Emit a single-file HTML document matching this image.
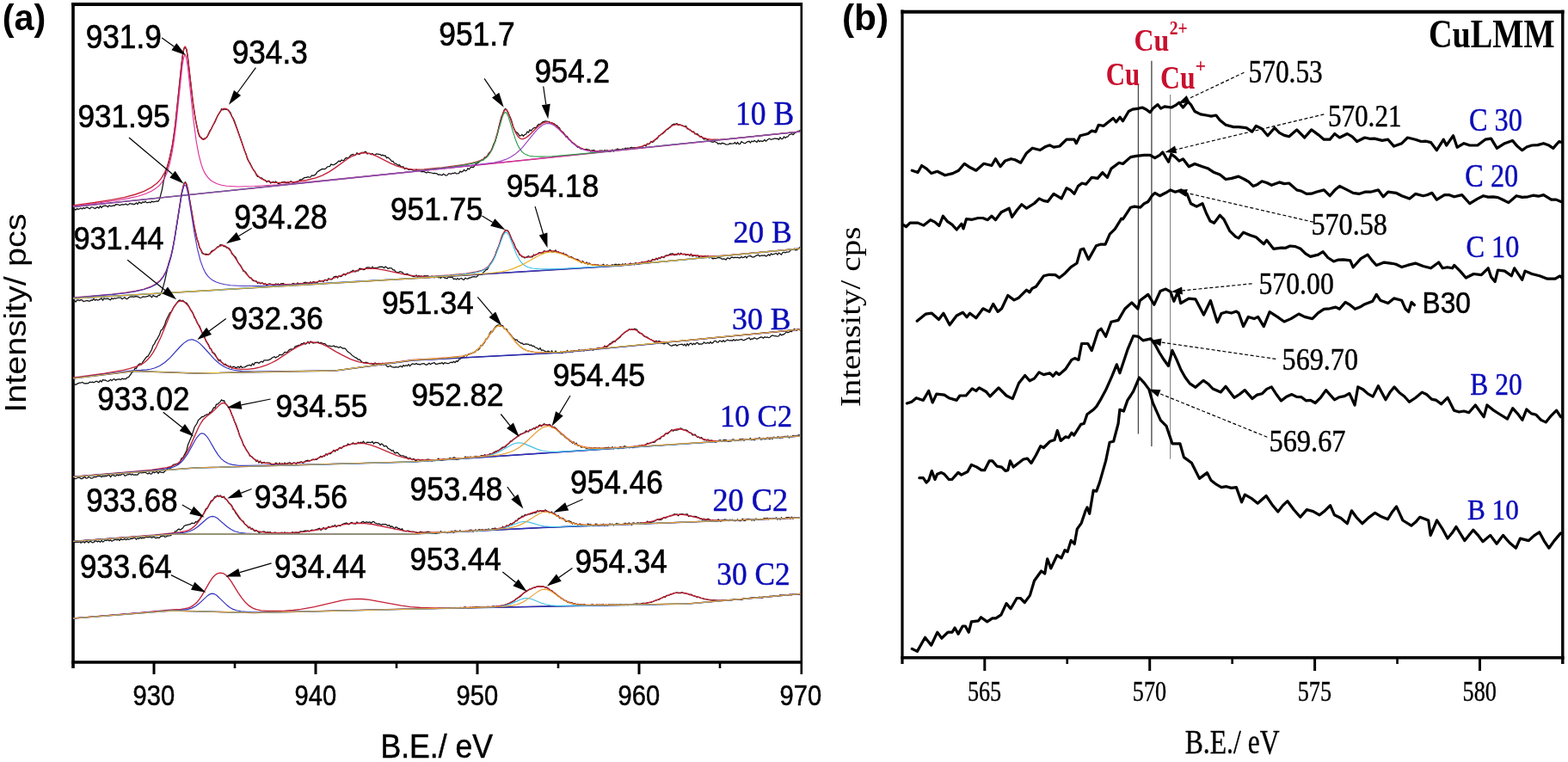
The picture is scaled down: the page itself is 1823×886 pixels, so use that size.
<!DOCTYPE html>
<html><head><meta charset="utf-8"><title>XPS spectra</title>
<style>html,body{margin:0;padding:0;background:#fff;width:1823px;height:886px;overflow:hidden}svg{display:block}</style>
</head><body>
<svg width="1823" height="886" viewBox="0 0 1823 886"><rect width="1823" height="886" fill="#fff"/><line x1="85" y1="3" x2="85" y2="777" stroke="#000" stroke-width="3.6"/>
<line x1="83.2" y1="5" x2="932.3" y2="5" stroke="#000" stroke-width="4"/>
<line x1="931.8" y1="3" x2="931.8" y2="784" stroke="#000" stroke-width="2.6"/>
<line x1="83.2" y1="770" x2="932.5" y2="770" stroke="#000" stroke-width="3.6"/>
<line x1="179" y1="770" x2="179" y2="784" stroke="#000" stroke-width="3"/>
<line x1="367" y1="770" x2="367" y2="784" stroke="#000" stroke-width="3"/>
<line x1="555" y1="770" x2="555" y2="784" stroke="#000" stroke-width="3"/>
<line x1="743" y1="770" x2="743" y2="784" stroke="#000" stroke-width="3"/>
<line x1="273" y1="770" x2="273" y2="777" stroke="#000" stroke-width="2.6"/>
<line x1="461" y1="770" x2="461" y2="777" stroke="#000" stroke-width="2.6"/>
<line x1="649" y1="770" x2="649" y2="777" stroke="#000" stroke-width="2.6"/>
<line x1="837" y1="770" x2="837" y2="777" stroke="#000" stroke-width="2.6"/>
<text transform="translate(154.57 820.13) scale(1 1.1111)" font-family='"Liberation Sans", Arial, sans-serif' font-size="29.13" fill="#000" stroke="#000" stroke-width="0.45">930</text>
<text transform="translate(342.57 820.13) scale(1 1.1111)" font-family='"Liberation Sans", Arial, sans-serif' font-size="29.13" fill="#000" stroke="#000" stroke-width="0.45">940</text>
<text transform="translate(530.57 820.13) scale(1 1.1111)" font-family='"Liberation Sans", Arial, sans-serif' font-size="29.13" fill="#000" stroke="#000" stroke-width="0.45">950</text>
<text transform="translate(718.57 820.13) scale(1 1.1111)" font-family='"Liberation Sans", Arial, sans-serif' font-size="29.13" fill="#000" stroke="#000" stroke-width="0.45">960</text>
<text transform="translate(906.57 820.13) scale(1 1.1111)" font-family='"Liberation Sans", Arial, sans-serif' font-size="29.13" fill="#000" stroke="#000" stroke-width="0.45">970</text>
<text transform="translate(442.41 881.07) scale(1 1.0780)" font-family='"Liberation Sans", Arial, sans-serif' font-size="35.59" fill="#000" stroke="#000" stroke-width="0.46">B.E./ eV</text>
<text transform="translate(29.8 479.87) rotate(-90) scale(1.1269 1)" font-family='"Liberation Sans", Arial, sans-serif' font-size="35.20" fill="#000">Intensity/ pcs</text>
<text transform="translate(2.63 34.95) scale(1 1.0196)" font-family='"Liberation Sans", Arial, sans-serif' font-size="41.34" font-weight="bold" fill="#000">(a)</text>
<line x1="1049" y1="11.5" x2="1049" y2="772" stroke="#000" stroke-width="3.2"/>
<line x1="1047.4" y1="13.7" x2="1818.5" y2="13.7" stroke="#000" stroke-width="4"/>
<line x1="1816.8" y1="11.7" x2="1816.8" y2="772" stroke="#000" stroke-width="3.4"/>
<line x1="1047.4" y1="764.8" x2="1818.5" y2="764.8" stroke="#000" stroke-width="3.4"/>
<line x1="1144.8" y1="764.8" x2="1144.8" y2="780" stroke="#000" stroke-width="3"/>
<line x1="1336.7" y1="764.8" x2="1336.7" y2="780" stroke="#000" stroke-width="3"/>
<line x1="1528.6" y1="764.8" x2="1528.6" y2="780" stroke="#000" stroke-width="3"/>
<line x1="1720.5" y1="764.8" x2="1720.5" y2="780" stroke="#000" stroke-width="3"/>
<line x1="1240.75" y1="764.8" x2="1240.75" y2="772" stroke="#000" stroke-width="2.6"/>
<line x1="1432.65" y1="764.8" x2="1432.65" y2="772" stroke="#000" stroke-width="2.6"/>
<line x1="1624.55" y1="764.8" x2="1624.55" y2="772" stroke="#000" stroke-width="2.6"/>
<text transform="translate(1124.89 815.06) scale(1 1.2921)" font-family='"Liberation Serif", "Times New Roman", serif' font-size="26.24" fill="#000" stroke="#000" stroke-width="0.31">565</text>
<text transform="translate(1316.79 815.06) scale(1 1.2896)" font-family='"Liberation Serif", "Times New Roman", serif' font-size="26.19" fill="#000" stroke="#000" stroke-width="0.31">570</text>
<text transform="translate(1508.69 815.06) scale(1 1.3067)" font-family='"Liberation Serif", "Times New Roman", serif' font-size="26.24" fill="#000" stroke="#000" stroke-width="0.31">575</text>
<text transform="translate(1700.59 815.06) scale(1 1.2896)" font-family='"Liberation Serif", "Times New Roman", serif' font-size="26.19" fill="#000" stroke="#000" stroke-width="0.31">580</text>
<text transform="translate(1377.73 875.61) scale(1 1.2397)" font-family='"Liberation Serif", "Times New Roman", serif' font-size="31.67" fill="#000" stroke="#000" stroke-width="0.32">B.E./ eV</text>
<text transform="translate(999.9 473.37) rotate(-90) scale(1.1656 1)" font-family='"Liberation Serif", "Times New Roman", serif' font-size="33.59" fill="#000">Intensity/ cps</text>
<text transform="translate(978.88 35.25) scale(1 0.9925)" font-family='"Liberation Sans", Arial, sans-serif' font-size="42.46" font-weight="bold" fill="#000">(b)</text>
<text transform="translate(1660.88 55.42) scale(1 1.2194)" font-family='"Liberation Serif", "Times New Roman", serif' font-size="38.27" font-weight="bold" fill="#000">CuLMM</text>
<text transform="translate(99.68 55.85) scale(1 1.1288)" font-family='"Liberation Sans", Arial, sans-serif' font-size="35.19" fill="#000" stroke="#000" stroke-width="0.62">931.9</text>
<text transform="translate(269.78 73.57) scale(1 1.0937)" font-family='"Liberation Sans", Arial, sans-serif' font-size="35.15" fill="#000" stroke="#000" stroke-width="0.64">934.3</text>
<text transform="translate(90.38 148.08) scale(1 1.0626)" font-family='"Liberation Sans", Arial, sans-serif' font-size="35.12" fill="#000" stroke="#000" stroke-width="0.66">931.95</text>
<text transform="translate(272.37 266.25) scale(1 1.1305)" font-family='"Liberation Sans", Arial, sans-serif' font-size="35.38" fill="#000" stroke="#000" stroke-width="0.62">934.28</text>
<text transform="translate(85.52 289.68) scale(1 1.0889)" font-family='"Liberation Sans", Arial, sans-serif' font-size="34.27" fill="#000" stroke="#000" stroke-width="0.64">931.44</text>
<text transform="translate(268.59 382.99) scale(1 1.0365)" font-family='"Liberation Sans", Arial, sans-serif' font-size="35.05" fill="#000" stroke="#000" stroke-width="0.68">932.36</text>
<text transform="translate(113.18 477.47) scale(1 1.0792)" font-family='"Liberation Sans", Arial, sans-serif' font-size="35.10" fill="#000" stroke="#000" stroke-width="0.65">933.02</text>
<text transform="translate(320.39 484.57) scale(1 1.0777)" font-family='"Liberation Sans", Arial, sans-serif' font-size="35.02" fill="#000" stroke="#000" stroke-width="0.65">934.55</text>
<text transform="translate(100.2 595.26) scale(1 1.1258)" font-family='"Liberation Sans", Arial, sans-serif' font-size="34.78" fill="#000" stroke="#000" stroke-width="0.62">933.68</text>
<text transform="translate(295.87 590.76) scale(1 1.1105)" font-family='"Liberation Sans", Arial, sans-serif' font-size="35.38" fill="#000" stroke="#000" stroke-width="0.63">934.56</text>
<text transform="translate(92.89 671.57) scale(1 1.0904)" font-family='"Liberation Sans", Arial, sans-serif' font-size="34.87" fill="#000" stroke="#000" stroke-width="0.64">933.64</text>
<text transform="translate(318.89 671.57) scale(1 1.0893)" font-family='"Liberation Sans", Arial, sans-serif' font-size="34.90" fill="#000" stroke="#000" stroke-width="0.64">934.44</text>
<text transform="translate(510.27 52.66) scale(1 1.0905)" font-family='"Liberation Sans", Arial, sans-serif' font-size="35.38" fill="#000" stroke="#000" stroke-width="0.64">951.7</text>
<text transform="translate(621.39 95.96) scale(1 1.1021)" font-family='"Liberation Sans", Arial, sans-serif' font-size="35.01" fill="#000" stroke="#000" stroke-width="0.64">954.2</text>
<text transform="translate(454.08 256.28) scale(1 1.0626)" font-family='"Liberation Sans", Arial, sans-serif' font-size="35.12" fill="#000" stroke="#000" stroke-width="0.66">951.75</text>
<text transform="translate(588.68 229.28) scale(1 1.0617)" font-family='"Liberation Sans", Arial, sans-serif' font-size="35.15" fill="#000" stroke="#000" stroke-width="0.66">954.18</text>
<text transform="translate(443.89 365.38) scale(1 1.0701)" font-family='"Liberation Sans", Arial, sans-serif' font-size="34.87" fill="#000" stroke="#000" stroke-width="0.65">951.34</text>
<text transform="translate(478.18 471.88) scale(1 1.0620)" font-family='"Liberation Sans", Arial, sans-serif' font-size="35.14" fill="#000" stroke="#000" stroke-width="0.66">952.82</text>
<text transform="translate(642.68 449.28) scale(1 1.0424)" font-family='"Liberation Sans", Arial, sans-serif' font-size="35.12" fill="#000" stroke="#000" stroke-width="0.67">954.45</text>
<text transform="translate(476.58 581.96) scale(1 1.1188)" font-family='"Liberation Sans", Arial, sans-serif' font-size="35.25" fill="#000" stroke="#000" stroke-width="0.63">953.48</text>
<text transform="translate(663.08 574.26) scale(1 1.1147)" font-family='"Liberation Sans", Arial, sans-serif' font-size="35.25" fill="#000" stroke="#000" stroke-width="0.63">954.46</text>
<text transform="translate(476.6 663.07) scale(1 1.0875)" font-family='"Liberation Sans", Arial, sans-serif' font-size="34.70" fill="#000" stroke="#000" stroke-width="0.64">953.44</text>
<text transform="translate(668.58 666.36) scale(1 1.1204)" font-family='"Liberation Sans", Arial, sans-serif' font-size="35.07" fill="#000" stroke="#000" stroke-width="0.62">954.34</text>
<text transform="translate(855.02 144.87) scale(1 1.1278)" font-family='"Liberation Serif", "Times New Roman", serif' font-size="35.53" fill="#0c0cb8" stroke="#0c0cb8" stroke-width="0.40">10 B</text>
<text transform="translate(852.41 281.71) scale(1 1.0297)" font-family='"Liberation Serif", "Times New Roman", serif' font-size="35.75" fill="#0c0cb8" stroke="#0c0cb8" stroke-width="0.44">20 B</text>
<text transform="translate(851.03 382.71) scale(1 1.0300)" font-family='"Liberation Serif", "Times New Roman", serif' font-size="35.74" fill="#0c0cb8" stroke="#0c0cb8" stroke-width="0.44">30 B</text>
<text transform="translate(836.98 496.11) scale(1 1.0582)" font-family='"Liberation Serif", "Times New Roman", serif' font-size="34.79" fill="#0c0cb8" stroke="#0c0cb8" stroke-width="0.43">10 C2</text>
<text transform="translate(828.38 593.89) scale(1 1.0640)" font-family='"Liberation Serif", "Times New Roman", serif' font-size="36.27" fill="#0c0cb8" stroke="#0c0cb8" stroke-width="0.42">20 C2</text>
<text transform="translate(833.35 679.69) scale(1 1.0942)" font-family='"Liberation Serif", "Times New Roman", serif' font-size="35.27" fill="#0c0cb8" stroke="#0c0cb8" stroke-width="0.41">30 C2</text>
<text transform="translate(1285.73 98.52) scale(1 1.2444)" font-family='"Liberation Serif", "Times New Roman", serif' font-size="30.95" font-weight="bold" fill="#c8102e">Cu</text>
<text transform="translate(1318.49 59.04) scale(1 1.1529)" font-family='"Liberation Serif", "Times New Roman", serif' font-size="31.87" font-weight="bold" fill="#c8102e">Cu</text>
<text transform="translate(1359.76 40.3) scale(1 1.1268)" font-family='"Liberation Serif", "Times New Roman", serif' font-size="19.69" font-weight="bold" fill="#c8102e">2+</text>
<text transform="translate(1348.99 103.02) scale(1 1.2072)" font-family='"Liberation Serif", "Times New Roman", serif' font-size="31.78" font-weight="bold" fill="#c8102e">Cu</text>
<text transform="translate(1389.87 84.41) scale(1 1.1200)" font-family='"Liberation Serif", "Times New Roman", serif' font-size="21.51" font-weight="bold" fill="#c8102e">+</text>
<text transform="translate(1451.62 95.7) scale(1 1.2141)" font-family='"Liberation Serif", "Times New Roman", serif' font-size="31.31" fill="#000" stroke="#000" stroke-width="0.37">570.53</text>
<text transform="translate(1543.94 146.72) scale(1 1.1834)" font-family='"Liberation Serif", "Times New Roman", serif' font-size="31.13" fill="#000" stroke="#000" stroke-width="0.38">570.21</text>
<text transform="translate(1524.48 273.04) scale(1 1.1139)" font-family='"Liberation Serif", "Times New Roman", serif' font-size="32.15" fill="#000" stroke="#000" stroke-width="0.40">570.58</text>
<text transform="translate(1463.5 342.44) scale(1 1.1285)" font-family='"Liberation Serif", "Times New Roman", serif' font-size="31.73" fill="#000" stroke="#000" stroke-width="0.40">570.00</text>
<text transform="translate(1490.58 430.44) scale(1 1.1139)" font-family='"Liberation Serif", "Times New Roman", serif' font-size="32.15" fill="#000" stroke="#000" stroke-width="0.40">569.70</text>
<text transform="translate(1475.46 524.84) scale(1 1.1092)" font-family='"Liberation Serif", "Times New Roman", serif' font-size="32.40" fill="#000" stroke="#000" stroke-width="0.41">569.67</text>
<text transform="translate(1707.93 152.4) scale(1 1.1689)" font-family='"Liberation Serif", "Times New Roman", serif' font-size="32.26" fill="#0c0cb8" stroke="#0c0cb8" stroke-width="0.38">C 30</text>
<text transform="translate(1703.33 216.8) scale(1 1.1735)" font-family='"Liberation Serif", "Times New Roman", serif' font-size="32.26" fill="#0c0cb8" stroke="#0c0cb8" stroke-width="0.38">C 20</text>
<text transform="translate(1704.53 298.62) scale(1 1.0908)" font-family='"Liberation Serif", "Times New Roman", serif' font-size="32.26" fill="#0c0cb8" stroke="#0c0cb8" stroke-width="0.41">C 10</text>
<text transform="translate(1709.36 458.91) scale(1 1.1500)" font-family='"Liberation Serif", "Times New Roman", serif' font-size="31.50" fill="#0c0cb8" stroke="#0c0cb8" stroke-width="0.39">B 20</text>
<text transform="translate(1705.97 604.43) scale(1 1.0983)" font-family='"Liberation Serif", "Times New Roman", serif' font-size="31.23" fill="#0c0cb8" stroke="#0c0cb8" stroke-width="0.41">B 10</text>
<text transform="translate(1653.54 364.11) scale(1 1.0888)" font-family='"Liberation Sans", Arial, sans-serif' font-size="31.67" fill="#000" stroke="#000" stroke-width="0.46">B30</text>
<path d="M85.0 240.5l846 -87.5" fill="none" stroke="#b0308a" stroke-width="1.5"/>
<path d="M85.0 243.5l1.5 -0.6l1.5 1.2l1.5 -1.7l1.5 1.1l3 -1.6l1.5 1l1.5 -1.3l1.5 0.8l1.5 -1.1l1.5 -0.1l3 1.6l1.5 -2l1.5 0.2l3 1.5l1.5 -1.1l1.5 -0.6l1.5 1.3l1.5 -2.5l1.5 1.9l1.5 -1.6l1.5 -0.5l1.5 -0.3l1.5 0.4l1.5 1.1l1.5 -1.8l1.5 0.9l1.5 0l1.5 -0.8l1.5 0.3l1.5 -1.5l3 0.1l1.5 1.1l3 -1.3l1.5 0.6l3 -1.1l1.5 1.1l1.5 -0.4l1.5 -1.3l1.5 0.7l1.5 -0.3l1.5 0.8l1.5 -0.6l1.5 -1.3l1.5 1.7l1.5 -2.4l3 1.3l1.5 -1.7l1.5 0.7l1.5 -1.3l1.5 1.5l1.5 0.1l1.5 -0.7l1.5 0.7l1.5 -1.6l1.5 0.8l4.5 -1.1l1.5 0.3l1.5 -2.5l3 -11.5l1.5 -8.8l3 -12.8l1.5 -3.9l1.5 -5.2l4.5 -21l3 -21.1l7.5 -72.7l1.5 -11.6l1.5 -7.1l1.5 -0.5l1.5 2.2l1.5 10.1l6 53.3l3 19.1l3 14.4l1.5 4.3l1.5 0.7l1.5 1.5l1.5 0.5l3 -1.1l1.5 -1.6l3 -6.7l1.5 -2l1.5 -3.3l3 -5l3 -7.2l3 -4.4l1.5 -3.4l1.5 1l1.5 -0.9l4.5 0.8l3 3.4l1.5 4.2l1.5 1.9l1.5 3.6l7.5 21.1l4.5 13.6l1.5 3.1l1.5 5.9l1.5 2.8l1.5 2l3 6.2l1.5 2.4l1.5 1.6l1.5 3.8l1.5 2.1l1.5 0.1l1.5 1.3l1.5 0l3 2.4l1.5 0.4l1.5 2l1.5 -1.3l1.5 0l1.5 2.7l3 -1.8l1.5 1.2l1.5 -1.3l3 2.5l3 -0.8l1.5 -1.1l1.5 0.2l1.5 -0.6l1.5 1.4l1.5 -0.7l1.5 0.5l1.5 -1.3l1.5 -0.4l1.5 1.3l1.5 0.2l4.5 -1.2l1.5 -0.6l1.5 -1.7l1.5 0.3l3 -2.2l1.5 -0.6l1.5 0.1l1.5 -0.8l1.5 0.5l1.5 -0.1l1.5 -2.1l1.5 0.4l1.5 -0.7l1.5 -0.9l1.5 -2.4l1.5 -1.2l4.5 -2.7l3 0.2l1.5 -0.9l1.5 -1.7l3 -0.6l1.5 -2.5l1.5 0.8l1.5 0l3 -1.8l3 -2.8l1.5 0.9l1.5 -1.9l1.5 0.5l1.5 -0.3l1.5 -2.2l1.5 -0.7l1.5 0.7l1.5 -1.3l1.5 -2.1l1.5 -0.8l1.5 -0.5l1.5 1.4l1.5 -0.8l1.5 -2.2l1.5 1.4l1.5 0.1l3 -2l1.5 0.4l1.5 -1.1l1.5 -0.2l1.5 2.6l1.5 -0.6l1.5 -0.1l1.5 1.3l1.5 -1l1.5 1.4l1.5 0.2l1.5 -1.4l4.5 0.8l1.5 1.2l1.5 -0.5l1.5 0.8l1.5 -0.2l1.5 2.7l1.5 -0.6l3 2.6l1.5 2l1.5 -0.1l1.5 2.5l1.5 0.1l3 2.1l1.5 -0.4l1.5 1.9l3 0.2l1.5 2.6l1.5 -1.2l3 2.1l3 -0.5l4.5 1.9l1.5 -1.6l1.5 1.4l1.5 -0.6l1.5 0.3l1.5 1.5l1.5 -0.5l1.5 0.4l3 1.3l1.5 -1l1.5 0.7l3 0.3l1.5 0.7l1.5 -0.4l3 0.6l1.5 1.4l1.5 -0.4l3 0.9l1.5 -1.6l3 1.9l1.5 -0.3l1.5 -1.9l1.5 -0.1l1.5 0.6l1.5 -1.1l1.5 0.2l1.5 -0.8l1.5 1.2l3 -0.3l1.5 -2.4l1.5 0.9l1.5 -0.7l1.5 -2l1.5 1.3l1.5 -0.4l1.5 -2.6l1.5 1.2l1.5 -2.2l1.5 -0.5l1.5 0.5l1.5 -1.4l1.5 -2.8l1.5 -0.3l1.5 -0.9l3 -2.8l1.5 -0.7l1.5 0l1.5 -2.9l1.5 0.2l1.5 -1.7l1.5 -2.9l3 -3.1l1.5 -3.4l1.5 -4.8l1.5 -1.9l3 -10.1l1.5 -7.9l3 -11.5l1.5 -2.8l1.5 -4.7l1.5 -1.9l1.5 1.2l4.5 9.4l1.5 4.1l1.5 6.1l3 6.2l1.5 0.7l1.5 1.4l1.5 2.6l1.5 -0.5l1.5 -1.1l1.5 1.7l1.5 -1.7l1.5 -0.5l1.5 -2.9l1.5 1l1.5 -3.1l1.5 1.1l1.5 -2l1.5 -1.3l1.5 -0.4l1.5 0l1.5 -2.7l1.5 -1.3l1.5 0.1l3 -2.6l3 -1.1l4.5 0.7l1.5 1.6l1.5 -0.7l1.5 1.4l1.5 0.1l1.5 1.6l1.5 0.4l1.5 2l1.5 0.9l1.5 3.4l3 1.8l3 5.2l1.5 -0.6l1.5 3.4l1.5 0.5l3 3.8l1.5 0.2l4.5 4.8l1.5 -0.8l1.5 2.1l3 0.8l3 0.3l1.5 -0.3l1.5 0.5l1.5 0.1l1.5 2l1.5 -1.1l3 -0.2l1.5 2l1.5 0.1l1.5 -0.5l1.5 -1.1l3 0l1.5 0.3l1.5 -0.8l1.5 0.6l1.5 -0.6l1.5 1.7l1.5 0l3 -2.2l1.5 1.8l1.5 -1.9l1.5 0l1.5 -1l1.5 0.8l3 0l1.5 -0.9l1.5 0.6l1.5 -1.4l1.5 0.5l1.5 -0.6l1.5 0.6l1.5 -1.1l1.5 -0.2l1.5 0.5l1.5 -0.4l1.5 0.6l1.5 -0.4l1.5 0.3l1.5 -0.6l3 -0.2l1.5 -1.8l1.5 -0.6l1.5 1.1l1.5 -2.9l1.5 0.8l1.5 -1l1.5 -2.5l1.5 1.1l1.5 -0.9l1.5 -1.8l3 -2l1.5 -3l1.5 -0.4l1.5 -1.4l1.5 -0.5l3 -2.7l1.5 -2l1.5 -0.4l1.5 -1.6l1.5 -1l1.5 -2l1.5 -1.2l1.5 -0.3l1.5 0.2l1.5 -0.8l1.5 1.9l1.5 -0.6l4.5 1.8l1.5 0.3l1.5 -0.4l1.5 3l1.5 0.9l1.5 0.4l3 2.6l1.5 -0.5l1.5 2.8l1.5 -0.3l1.5 0.4l1.5 1.4l1.5 2l1.5 -0.7l1.5 2.1l1.5 1.3l1.5 -0.6l1.5 0.4l4.5 2.8l1.5 0.2l1.5 0.6l1.5 -1l3 1.4l1.5 1.6l1.5 -0.8l1.5 0.9l1.5 -1.2l3 0.8l1.5 1.1l3 -0.3l1.5 -1.1l1.5 0.4l3 -0.4l1.5 -1.1l1.5 1.9l1.5 -2l1.5 1.9l1.5 -0.2l1.5 -2.6l3 1.8l1.5 0.2l1.5 -1.5l1.5 -0.6l1.5 -0.3l1.5 1.8l1.5 -2.1l1.5 0.8l1.5 -1.3l3 1.8l1.5 -2.3l1.5 1.6l1.5 -0.9l1.5 0.8l1.5 -0.6l1.5 -1.4l1.5 1.6l3 -2.6l1.5 -0.2l1.5 1.1l4.5 -1.4l1.5 0.4l1.5 -0.2l1.5 1.2l1.5 -2.5l1.5 1.6l1.5 -0.2l1.5 -2.4l1.5 1.5l1.5 -1.2l1.5 -0.2l1.5 -2.3l3 -1.1l1.5 1l3 -2.8l1.5 -0.3l3 -1.6l1.5 -0.1" fill="none" stroke="#111" stroke-width="1.25"/>
<path d="M85.0 238.9l25 -3.4l19.5 -3.1l15.5 -3.1l12.5 -3.3l10 -3.7l8.5 -4.4l6.5 -4.9l3 -3.1l2.5 -3.2l3.5 -6l3 -7.4l3 -10.4l2.5 -12.1l2.5 -15.9l2 -15.8l7.5 -71.9l1.5 -9.2l1 -3.1l0.5 -0.6l0.5 0.1l1 2.2l1.5 7.7l6 51.7l3 21.4l3 14.4l1.5 4.6l1.5 3.2l1.5 1.9l1.5 0.7l1.5 -0.2l2 -1.6l2 -2.6l2 -3.5l8.5 -17.8l3.5 -6.1l2 -2.4l2 -1.5l2 -0.4l2 0.6l1.5 1.2l2 2.6l4 7.8l3.5 9l11.5 32.5l4 9.4l4 7.5l4.5 6.3l2.5 2.5l2.5 2.1l5 2.6l6.5 1.7l5 0.4l6 0.1l17 -1.1l13.5 -1.8l10.5 -2.6l8 -3.1l7.5 -4l6.5 -4.2l14 -10.1l6 -3.7l6 -2.7l6 -1.3l5.5 0.1l6 1.4l6 2.5l15 7.8l7.5 3.3l9 2.7l9 1.3l6.5 0.2l7.5 -0.2l21 -2l25.5 -3.5l9 -1.7l6.5 -1.7l5.5 -2.1l4 -2.6l3.5 -3.5l3 -4.7l2.5 -5.5l2.5 -7.1l8.5 -30.2l2 -4.1l1.5 -0.9l1.5 1.1l1.5 2.7l6 17.1l2.5 6l2.5 4.2l1.5 1.6l1.5 1.1l1.5 0.5l1.5 0l3 -1.1l4 -3.1l9 -9l4.5 -3.7l2.5 -1.5l2.5 -1l2.5 -0.4l2 0.1l4 1.3l4.5 3.1l4.5 4.2l12 12.7l4 3.5l4 3l4 2.3l4.5 1.8l4.5 1.2l5.5 0.7l12.5 -0.1l22 -1.8l14.5 -1.8l9 -2.1l6 -2.4l6 -3.6l5 -4l10.5 -9.4l4 -3l4 -2l3.5 -0.8l4 0.2l4.5 1.6l4 2.4l11 7.5l6 3.2l6 1.9l6.5 0.8l7 0l10.5 -0.7l85 -8.7" fill="none" stroke="#c42036" stroke-width="1.35"/>
<path d="M85.0 239.7l27.5 -3.4l20 -2.8l15.5 -2.6l12 -2.7l9.5 -3l7.5 -3.5l6 -4.1l2.5 -2.3l2.5 -2.9l3.5 -5.6l3 -7l3 -10.2l2.5 -11.8l2.5 -15.6l2 -15.6l7.5 -70.6l1.5 -8.7l1 -2.8l0.5 -0.4l0.5 0.2l1 2.7l2 12.1l6 56.8l3.5 27.1l3 16.6l3 11.6l2 5.6l2.5 5.1l3 4.3l3 3l3.5 2.4l4.5 2.1l5 1.5l6 1l13.5 0.8l19 -0.5l27 -1.8l40.5 -3.7l148.5 -14.8l419 -43.2" fill="none" stroke="#e0309a" stroke-width="1.15"/>
<path d="M85.0 240.5l389 -40.5l50 -5.8l14.5 -2.1l10.5 -2l7.5 -2l5.5 -2.4l4 -2.9l3.5 -4.3l3 -5.5l3 -7.7l9 -30.6l1.5 -3l1.5 -1.2l1.5 0.9l2 4l8 26l2.5 6.4l3 5.6l3 3.7l3.5 2.5l4.5 1.6l6 0.8l8.5 0.1l11.5 -0.4l37.5 -3.1l252 -25.6" fill="none" stroke="#2a9a4a" stroke-width="1.15"/>
<path d="M85.0 240.5l418 -43.4l53.5 -5.7l18 -2.4l7.5 -1.6l6 -2l5.5 -2.6l5 -3.2l4.5 -3.8l4.5 -4.5l14 -17.2l4.5 -4.9l5 -3.9l2.5 -1.2l2.5 -0.6l2.5 0.1l2.5 0.6l2.5 1.2l2.5 1.8l4.5 3.9l13.5 13.8l4 3.4l4 2.7l4.5 2.3l4.5 1.5l5 1l5.5 0.5l12 -0.4l21.5 -1.9l206 -21" fill="none" stroke="#9a40c0" stroke-width="1.15"/>
<path d="M85.0 347.0l425 -25l210 -13l211 -20" fill="none" stroke="#1a1a70" stroke-width="1.5"/>
<path d="M85.0 350.9l1.5 -1.5l1.5 1.6l1.5 -1.9l1.5 -0.1l1.5 0.6l1.5 -0.9l1.5 0.4l1.5 1.4l4.5 -1.1l1.5 0.6l1.5 0l1.5 -1.1l1.5 0.3l1.5 -1.8l1.5 1.7l1.5 -0.8l1.5 0.7l1.5 -0.4l3 -1.7l1.5 2.2l1.5 -2.2l1.5 0.8l3 -0.6l1.5 1l1.5 0.6l1.5 -2l1.5 1l1.5 -1.1l1.5 0.6l3 -1.2l3 0l1.5 1.7l3 -2l1.5 1.7l1.5 0.2l1.5 -1.5l1.5 -0.9l3 -0.3l1.5 0.5l1.5 -0.7l3 0.2l3 1.5l1.5 -0.4l1.5 -1l3 0.1l3 -0.7l1.5 -0.8l1.5 0.5l1.5 1.7l1.5 -2.3l1.5 0.9l3 0.8l1.5 -1.8l1.5 -0.1l1.5 -1.9l1.5 -3.6l3 -11l4.5 -20.4l3 -9.1l1.5 -6.2l3 -16.9l7.5 -48l3 -13.1l1.5 -1.3l1.5 2.5l1.5 6.4l7.5 43.6l3 13.4l1.5 4.1l1.5 6.3l1.5 1.9l1.5 4.3l1.5 1l3 0.1l3 0.6l1.5 -0.7l1.5 -2.6l1.5 -1.3l1.5 -0.2l1.5 -1.1l3 -3.3l1.5 0l1.5 -2.2l3 0.6l1.5 1.5l1.5 -0.2l1.5 1.6l1.5 0.1l1.5 0.9l1.5 1.9l1.5 3.8l4.5 4.4l3 6.5l3 3.5l3 6.1l1.5 0.1l1.5 1.4l1.5 2.5l3 3.8l1.5 0l1.5 2.7l1.5 0.8l3 0.2l1.5 2.6l1.5 -1.2l1.5 1.8l1.5 -1.2l1.5 0.3l1.5 1.7l1.5 -1l1.5 1.8l3 -1.7l1.5 0.1l4.5 2l1.5 -2l1.5 0.6l1.5 -0.5l1.5 2l1.5 -2.2l3 -0.3l3 2.1l3 -0.5l1.5 0.6l1.5 -0.2l1.5 -1.7l1.5 -0.4l1.5 1.9l1.5 -0.6l1.5 -1.9l1.5 1.5l1.5 -0.8l3 -0.3l3 -1.1l1.5 0.5l1.5 0.1l1.5 1.4l1.5 -2.3l1.5 2l1.5 -2.2l1.5 0.2l1.5 1l1.5 -0.2l3 -2.5l1.5 0.8l1.5 -0.6l1.5 1.1l1.5 -2.2l1.5 0.1l1.5 1l1.5 -2.6l3 1.2l1.5 -0.5l1.5 -2.4l1.5 -0.5l1.5 -0.4l1.5 1.7l1.5 -2.2l1.5 0.8l1.5 -0.2l1.5 -2l1.5 -0.7l1.5 1.3l3 -2.9l1.5 0.7l1.5 -1.6l1.5 -0.6l1.5 -1.2l1.5 1.5l1.5 0l1.5 -1.2l1.5 0.4l1.5 -2.7l3 0.4l1.5 1l1.5 -0.3l1.5 -1.8l1.5 -0.6l3 0.2l1.5 1l1.5 -2.1l1.5 1.5l4.5 -0.4l3 -1.1l3 0.3l1.5 1.3l1.5 -1.6l1.5 0.6l1.5 1.8l1.5 -0.9l1.5 0l1.5 0.4l1.5 1.9l1.5 -0.1l1.5 2.3l1.5 0.3l1.5 0.8l1.5 -1.3l1.5 0l1.5 0.6l1.5 1.5l1.5 1l3 -0.5l3 1.7l4.5 1.3l1.5 -0.3l1.5 -1.3l1.5 2l1.5 -1.3l1.5 0.8l1.5 -0.4l1.5 1l1.5 -1.3l3 0.2l1.5 -0.2l1.5 1.9l3 -1.4l1.5 0.2l1.5 1.6l1.5 -1.2l1.5 -0.6l1.5 1.5l1.5 -0.3l1.5 1l1.5 -2.3l3 2.1l3 0.6l1.5 -2.1l1.5 0.8l1.5 -0.3l1.5 0.3l1.5 2.2l1.5 -0.8l1.5 1l1.5 -1.3l1.5 1.4l1.5 -1l1.5 -0.5l1.5 1.4l1.5 0.4l1.5 -2.2l1.5 1.1l1.5 -0.1l1.5 -1.2l1.5 0.1l1.5 -0.9l3 -0.4l1.5 0.4l1.5 -0.4l1.5 -1.8l1.5 -1.1l3 0.2l1.5 -2.4l1.5 -1l1.5 -1.9l1.5 -0.2l3 -6l3 -4.1l3 -5.5l1.5 -5.1l3 -6.7l3 -9.8l1.5 -3.9l1.5 -1.3l1.5 -3.6l3 0.8l1.5 2.4l3 8.2l1.5 2.1l1.5 3.1l1.5 4.6l3 3.4l1.5 4.3l1.5 0.2l1.5 2.2l1.5 -0.3l1.5 1.6l4.5 -2.3l1.5 1l3 0l1.5 -2.7l1.5 0.8l1.5 -1.3l1.5 -0.2l1.5 -1.6l3 -0.1l1.5 0.6l1.5 -2.6l3 1.2l1.5 0.2l1.5 -2.2l1.5 -0.2l1.5 2.1l1.5 0.2l3 -2l1.5 2.6l1.5 -1l1.5 1.9l1.5 -0.3l1.5 1.1l1.5 -1.1l1.5 2.3l1.5 -0.8l1.5 1.2l1.5 1.8l1.5 0.7l1.5 -1l4.5 3l3 0.2l1.5 1l1.5 1.8l1.5 1l1.5 -1.7l1.5 1.8l1.5 0.9l1.5 -1.4l1.5 2.4l1.5 -1.5l1.5 1.5l3 0.6l1.5 -0.6l3 1l1.5 -0.3l1.5 0.8l1.5 -0.5l1.5 0l1.5 -1l1.5 1.6l3 -1l1.5 1.4l1.5 0l3 -1.6l1.5 0.7l1.5 -1l1.5 0l1.5 0.7l1.5 -0.9l1.5 0.8l1.5 0l1.5 -1.3l1.5 1.4l1.5 -1.6l1.5 1.6l1.5 0l1.5 -0.9l1.5 -1.3l1.5 1l1.5 -0.5l1.5 1.3l1.5 -2.3l1.5 1.7l1.5 0.1l1.5 -0.9l1.5 0l1.5 -1.9l1.5 1.8l1.5 -1.6l1.5 0.9l1.5 -0.4l1.5 -2.3l1.5 1.2l1.5 0l1.5 -2.7l3 0.9l1.5 -2l1.5 1.5l1.5 -2.1l1.5 0.9l1.5 -2.2l3 1.1l1.5 -2.3l1.5 -0.3l1.5 0.2l3 -1.9l3 -0.2l1.5 1.8l1.5 -0.8l1.5 0.4l1.5 -1.9l1.5 1.6l1.5 -1.8l1.5 1.2l1.5 0.3l1.5 -0.6l1.5 1.5l1.5 -0.7l1.5 0.3l1.5 1l1.5 -1.9l1.5 2.6l3 -1.2l1.5 1.2l1.5 -1.2l1.5 2l1.5 -0.9l1.5 -0.4l1.5 1.2l3 -1.2l1.5 1.7l1.5 -1.6l1.5 2.3l1.5 -1.2l3 2.4l1.5 -0.8l1.5 0.4l3 -1.3l3 0.7l1.5 1.3l1.5 -0.5l1.5 0.2l1.5 1l1.5 -2.1l1.5 0.1l1.5 0.9l1.5 -1.7l1.5 -0.2l1.5 0.8l1.5 -0.8l1.5 0.5l1.5 -0.5l1.5 0.8l1.5 -0.1l1.5 -1.2l1.5 1l1.5 -0.5l1.5 -1.1l1.5 2l1.5 -2l3 -0.6l1.5 1.2l1.5 0.5l1.5 -0.4l1.5 -1.1l3 -1.3l1.5 1.5l3 -1l1.5 0.6l1.5 -0.7l1.5 1.2l1.5 -0.7l1.5 -1.4l1.5 1.5l1.5 -2.3l1.5 1.1l4.5 -1.7l1.5 1.8l1.5 -2.2l3 2l1.5 -2.5l1.5 -0.2l1.5 0.6l1.5 -0.7l3 -0.2l1.5 -2.2l3 -0.6l1.5 -1.1l1.5 1.8l3 -1.1l1.5 -2l1.5 2" fill="none" stroke="#111" stroke-width="1.25"/>
<path d="M85.0 346.1l45.5 -3.9l15 -1.8l12 -1.9l9.5 -2.2l8 -2.8l6 -3.2l5 -4.1l4 -5.1l3 -5.6l3 -7.9l2.5 -8.8l2.5 -11.2l2 -10.7l8.5 -54.3l2 -7.7l1 -1.8l0.5 -0.4l0.5 0.1l1 1.2l2 6.6l7 40.3l3.5 16.6l3 9.8l1.5 3.4l2 3.2l1.5 1.5l1.5 0.7l1.5 0.3l1.5 -0.3l3 -1.6l7.5 -6.3l3 -1.9l3.5 -1l2 0.3l1.5 0.5l3 2.2l3.5 4l13.5 20.5l4 5.2l3.5 3.7l4.5 3.6l4.5 2.5l5 1.6l6 1l11 0.5l18.5 -0.5l16 -1l13 -1.5l9 -1.7l8.5 -2.1l29.5 -9.8l6.5 -1.4l6.5 -0.7l6 0l6.5 0.6l7 1.3l24 5.3l9 1.3l9.5 0.6l14.5 -0.1l18.5 -1.2l19 -1.9l12.5 -2.1l5.5 -1.5l4.5 -2.2l3.5 -2.8l3 -3.6l3 -5.2l2.5 -5.6l8.5 -23.3l2 -3.3l1.5 -0.9l1.5 0.6l2 2.8l6.5 15l3.5 6.6l3 3.8l1.5 1.2l2 1.1l3 0.6l3 -0.2l4 -1.2l9.5 -3.7l5 -1.6l5.5 -0.9l5 0.1l4.5 0.9l5 1.6l17.5 7.9l8 3l9 2.1l9.5 1.1l10 0.3l13 -0.4l22 -2.3l13.5 -2.7l22 -6.4l8.5 -1.4l9.5 0l22 2.5l13.5 -0.1l19 -1.4l81 -7.6" fill="none" stroke="#c42036" stroke-width="1.35"/>
<path d="M85.0 346.2l46 -3.8l15 -1.7l12 -2l9.5 -2.2l7.5 -2.5l6 -3.1l5 -4l4 -5.1l3 -5.5l3 -7.8l2.5 -8.7l2.5 -11.1l2 -10.7l8.5 -53.4l2 -7.4l1 -1.7l0.5 -0.2l1 0.7l1 2.3l2 8.4l7 44.1l3.5 18.6l3.5 13.7l3.5 9.5l2.5 4.8l2.5 3.5l3 3l3 2.1l4 2l4.5 1.5l5.5 1.3l6.5 0.9l13.5 0.8l18.5 0l25.5 -0.8l36.5 -1.7l148 -8.2l210 -12.9l211 -19.9" fill="none" stroke="#4a3ac8" stroke-width="1.15"/>
<path d="M85.0 347.0l391 -23.3l45.5 -3.2l15.5 -1.4l11 -1.4l8 -1.5l5.5 -1.8l4.5 -2.5l3.5 -3.3l3 -4.2l3 -5.8l9.5 -24.8l2 -3l1.5 -0.6l1.5 0.8l2 3.2l8.5 21.5l3 5.8l3 4.2l3.5 3.1l4 2l5 1.2l6.5 0.6l12 0.2l17.5 -0.5l65 -3.5l211 -19.8" fill="none" stroke="#40c0e8" stroke-width="1.15"/>
<path d="M85.0 347.0l421.5 -24.9l62 -4.3l15.5 -2.1l6.5 -1.5l6 -1.8l10.5 -4.5l21.5 -11.8l6 -2.2l5.5 -0.9l5.5 0.2l6 1.5l5.5 2.1l15.5 6.8l10.5 3.3l5.5 1l5.5 0.7l14 0.4l12 -0.4l18.5 -1.6l192.5 -18" fill="none" stroke="#e8b020" stroke-width="1.15"/>
<path d="M85.0 440.0l71 -8.5l71 2.5l163 -3l90 -12l172 -9l279 -27" fill="none" stroke="#1a1a80" stroke-width="1.5"/>
<path d="M85.0 447.6l1.5 -0.9l1.5 0.6l3 -1.7l1.5 -0.5l1.5 0.1l1.5 -0.7l3 1.5l1.5 -0.3l1.5 0.2l1.5 -0.5l1.5 -1.3l1.5 0.5l1.5 -0.5l1.5 0.8l3 -1.7l3 1.4l1.5 -2.1l1.5 1.5l1.5 -2.4l1.5 0.5l1.5 -0.3l1.5 1.2l1.5 0.3l1.5 -0.7l1.5 -1.3l1.5 1.3l1.5 -1.6l1.5 -0.4l1.5 1.5l1.5 -0.9l3 -0.2l1.5 0.6l1.5 -1.5l1.5 0.8l1.5 -0.6l1.5 0.2l1.5 -1.6l1.5 -0.3l4.5 -6.3l1.5 -0.9l1.5 -3.3l1.5 0.4l1.5 -3.5l1.5 -1.6l1.5 -0.7l1.5 1l1.5 -2.8l4.5 -6.1l1.5 -0.6l4.5 -8l1.5 -4.7l1.5 -1.6l1.5 -3.5l1.5 -1.8l3 -5.5l1.5 -4.9l1.5 -0.8l3 -5.5l1.5 -5.1l4.5 -9.2l1.5 -0.8l3 -5.7l1.5 -1.7l3 -4.6l1.5 -1.4l1.5 -0.5l1.5 1.6l1.5 -1.1l3 2.5l1.5 0.4l3 4.5l1.5 3.5l1.5 1.6l1.5 2.6l1.5 4.6l1.5 1.9l1.5 4l1.5 2.5l1.5 1.7l4.5 11.5l1.5 1.9l1.5 4l3 4.3l1.5 4.3l1.5 0.5l1.5 4.2l1.5 0.5l1.5 1.5l3 5.6l1.5 2.1l1.5 -1.1l1.5 2.5l1.5 1.1l1.5 1.8l1.5 -0.7l1.5 1.6l1.5 0.2l1.5 1.8l1.5 -1.1l1.5 2.2l1.5 -1.5l1.5 0l1.5 1.3l1.5 -0.5l1.5 -1l1.5 1.2l1.5 -1.6l1.5 1.7l1.5 -0.5l1.5 -0.1l3 -1.8l3 -0.7l1.5 0.9l1.5 -2.6l1.5 1.7l1.5 -2.7l3 -0.4l1.5 1.2l1.5 -1.5l1.5 -0.8l1.5 0.9l1.5 -2.2l4.5 -0.1l3 -1.2l1.5 -1.3l3 -1.6l1.5 1.3l1.5 -1.1l1.5 -0.4l1.5 -2.1l3 0.2l1.5 -1.2l1.5 -2l3 0.5l1.5 -2.5l1.5 -1l1.5 -0.5l1.5 0.2l1.5 -0.4l1.5 -2.6l4.5 -1.7l1.5 -0.2l1.5 -1.6l1.5 -0.1l1.5 -0.9l1.5 1.6l1.5 -1l1.5 -1.9l1.5 2l1.5 -2.4l1.5 0.6l1.5 1.6l1.5 -0.4l1.5 0l3 -0.9l1.5 1.5l1.5 -1l3 1.6l1.5 -0.5l3 2.8l3 0l1.5 0.6l1.5 -0.2l1.5 -0.6l1.5 1.3l1.5 -0.4l3 1.4l1.5 -1l3 1.7l1.5 -0.2l1.5 0.4l1.5 2.2l1.5 1.6l3 2.1l1.5 1.8l3 2.1l3 1.6l1.5 1.8l1.5 -0.4l3 3.2l3 0.6l1.5 -0.6l4.5 1.7l1.5 -0.5l3 1.5l1.5 -1.9l1.5 1.2l1.5 0.3l1.5 -1l1.5 0.4l1.5 1.5l1.5 -2.1l1.5 1.7l1.5 -0.5l1.5 2.1l1.5 0.9l3 -1.3l1.5 1.5l1.5 0.1l1.5 0.5l1.5 -0.6l3 0.4l1.5 -1l1.5 -0.5l1.5 1.2l1.5 -2.1l1.5 1l1.5 -0.9l1.5 0.7l1.5 -1.8l1.5 2l1.5 -1.8l1.5 -1l3 0.7l1.5 -1.1l1.5 1l1.5 -0.1l1.5 0.7l1.5 -1l3 -0.5l1.5 1.3l1.5 0.4l3 -2l1.5 1.4l1.5 -1.1l3 -0.9l1.5 1.6l1.5 0l3 -1l1.5 0.2l1.5 -1l1.5 1.8l1.5 -1.6l3 1l1.5 0l1.5 -1l1.5 -0.6l1.5 0.6l1.5 -1.4l1.5 1.4l1.5 -1.9l1.5 0.6l1.5 -2.3l1.5 -0.6l1.5 -1.2l1.5 -0.5l3 -2.8l1.5 1l1.5 -1.8l3 -1.1l1.5 -0.2l1.5 -0.9l1.5 -0.4l1.5 -0.9l1.5 -2l1.5 0.2l1.5 -1.6l1.5 -3.7l1.5 0.3l3 -4l1.5 -3.8l1.5 -0.3l1.5 -2.7l1.5 -3.7l1.5 -2.1l1.5 0.4l3 -5.1l1.5 -1.6l1.5 -0.8l1.5 -0.3l1.5 1.4l1.5 -0.8l1.5 0.2l1.5 3l1.5 1l1.5 -0.1l1.5 3.5l1.5 1l4.5 5.7l3 2.7l1.5 -0.5l1.5 2.3l1.5 0.4l1.5 1.3l1.5 -0.2l1.5 1.7l3 -0.7l3 0.5l1.5 1.3l1.5 -0.6l1.5 1.5l1.5 -0.3l1.5 1.5l3 1.3l1.5 1.4l1.5 -1.7l1.5 2.8l1.5 -0.5l4.5 2.2l1.5 -1l1.5 0.4l1.5 1.6l1.5 -2.2l1.5 1.6l1.5 0.1l1.5 -1.6l1.5 1.6l1.5 0.1l1.5 0.7l1.5 -1.6l1.5 1.6l1.5 -1.4l1.5 -0.2l1.5 1l1.5 -2.4l1.5 1.7l1.5 -0.4l1.5 -0.9l1.5 1.3l1.5 -1.5l3 0.2l1.5 0.5l1.5 -1.6l1.5 0.5l3 0l1.5 0.6l1.5 -1.6l1.5 1.3l1.5 -1.3l1.5 0.2l1.5 -0.8l1.5 0.5l1.5 1l1.5 -1l1.5 0.2l1.5 -1.4l3 -0.6l1.5 0.4l3 -0.2l1.5 -2.4l1.5 1.2l1.5 -0.2l3 -3.7l1.5 -0.3l1.5 -1.8l1.5 -0.6l1.5 0.7l1.5 -2.1l4.5 -3.4l1.5 -2.2l6 -4.7l1.5 -0.6l1.5 -1.8l1.5 0.8l1.5 -0.7l1.5 0.8l1.5 -1.4l3 1l1.5 2.8l1.5 1.3l3 0.8l1.5 2.3l1.5 1l3 0.7l3 2.2l1.5 0.5l1.5 0.9l3 2.3l1.5 -1.9l1.5 1.6l1.5 -1.2l1.5 0.5l1.5 2.1l1.5 -0.3l1.5 1.2l3 -1.6l4.5 3.4l1.5 0.4l1.5 -1l1.5 0.1l1.5 -0.7l1.5 1.5l1.5 -1.1l4.5 -0.9l1.5 1.6l1.5 -1.6l1.5 2l1.5 -2.4l1.5 1.9l1.5 -2.1l1.5 -0.4l1.5 1.7l1.5 -1.4l1.5 1.1l1.5 -1.6l1.5 -0.5l1.5 1.8l1.5 -0.3l1.5 0.2l1.5 -0.5l1.5 -1.8l1.5 1.3l1.5 0l1.5 -0.8l1.5 1.1l1.5 -1.9l1.5 1.7l1.5 -0.8l1.5 -1.9l1.5 -0.2l1.5 1.5l1.5 0.3l1.5 -2l1.5 0.4l1.5 1l1.5 -1.7l1.5 1.7l3 -2.4l3 1.1l1.5 -0.5l1.5 0.5l1.5 -1.6l1.5 1.6l1.5 -1.3l1.5 0.6l4.5 -1.1l1.5 0.9l1.5 0.2l6 -2.8l1.5 2.2l1.5 -0.9l1.5 0.2l1.5 -1.4l3 1.4l4.5 -2.2l1.5 0.2l1.5 1l1.5 -1.5l1.5 0.7l1.5 -0.4l1.5 0.7l1.5 -0.4l1.5 -1.5l1.5 -0.9l1.5 0.5l4.5 0.7l1.5 -0.3l1.5 -2.6l1.5 1.5l3 -1.1l3 -2.7l1.5 0.9l3 -1.5l1.5 0.2l1.5 -1.9l1.5 -1l1.5 1.1l1.5 0.5l1.5 -1.7l1.5 1.2l1.5 0.4" fill="none" stroke="#111" stroke-width="1.25"/>
<path d="M85.0 439.2l36.5 -5.1l22 -3.8l7 -1.7l9.5 -3l4 -1.7l3.5 -2.2l3.5 -3l3.5 -3.9l3.5 -5l3 -5.1l6 -12.7l11 -26.8l4 -8l2 -3l2 -2.3l2 -1.4l2 -0.6l2.5 0.3l2.5 1.5l3 3l3 4.2l5 9l11 23.1l5 9.8l5.5 9l5 6.6l6 5.7l3 2l3.5 1.9l7 2.3l8.5 1.1l7.5 -0.1l7.5 -0.8l7 -1.6l7 -2.3l6 -2.6l6 -3.2l19.5 -12.8l6.5 -3.7l7 -3l3.5 -0.9l3.5 -0.4l6 0.2l6.5 1.7l7 3.3l9 5.5l7.5 4l9.5 4.6l5.5 2l5 1.5l5 1l5.5 0.7l8.5 0.4l10.5 -0.5l13 -1.3l20 -2.6l39.5 -2.5l18 -1.8l5 -1.1l4.5 -1.5l4 -2l3.5 -2.5l3.5 -3.3l3.5 -4l12.5 -17l3.5 -3.1l3 -1l1.5 0.1l1.5 0.5l3.5 2.6l3 3.4l10.5 13.4l4 4l3.5 2.6l4 2l4.5 1.4l5.5 0.9l7 0.3l23 -0.5l36 -3.3l7 -0.9l5.5 -1.1l5 -1.7l4.5 -2.3l5 -3.7l12 -10.6l3.5 -2l3.5 -0.9l3.5 0.3l3.5 1.5l11.5 8.1l5.5 2.9l5.5 1.6l7 0.6l16.5 -1.1l144 -13.8" fill="none" stroke="#c42036" stroke-width="1.35"/>
<path d="M85.0 439.8l47 -5.9l24 -3.3l8 -0.2l6.5 -0.5l4.5 -0.7l4.5 -1.2l6 -2.5l6 -4l6.5 -5.9l11 -12.1l4.5 -4.4l4.5 -3.1l2 -0.8l2 -0.3l2 0l2.5 0.8l2.5 1.2l3 2.2l4.5 4.4l12.5 13.8l4 3.7l3.5 2.8l3.5 2.2l3.5 1.8l4 1.5l4 1l10 1.3l14.5 0.4l94 -1.1l90 -12l172 -8.9l279 -27" fill="none" stroke="#3030c0" stroke-width="1.15"/>
<path d="M85.0 440.0l71 -8.5l71 2.5l163 -3.1l90 -12.2l35.5 -2.2l18 -1.6l6.5 -1.1l5 -1.3l4.5 -2l4 -2.5l3.5 -3.1l4 -4.4l10 -13.9l3.5 -4.3l3 -2.5l3 -1.1l1.5 0.1l1.5 0.6l3.5 2.6l3 3.4l10.5 13.4l4 3.9l3.5 2.6l4 2.1l4.5 1.4l5.5 0.9l7 0.3l23 -0.6l20 -1.7l259 -24.7" fill="none" stroke="#e8c030" stroke-width="1.15"/>
<path d="M85.0 554.5l142 -10.5l253 -7l451 -30" fill="none" stroke="#1a1a70" stroke-width="1.5"/>
<path d="M85.0 555.8l1.5 0.9l1.5 0l3 -1.4l1.5 0l1.5 1.2l1.5 0l3 -2.1l1.5 1.8l1.5 -0.2l1.5 -1.5l3 1.5l1.5 -0.2l1.5 -1l1.5 -0.2l1.5 0.1l1.5 -1.1l3 -0.3l1.5 1.3l1.5 -1l1.5 0.4l1.5 -0.5l1.5 0.2l1.5 -1.1l1.5 -0.4l1.5 2.4l1.5 -1.8l1.5 -0.8l1.5 1.3l1.5 0.3l1.5 -1.8l1.5 1.1l1.5 -0.8l1.5 0.3l1.5 -1.4l1.5 0l1.5 2.3l1.5 -0.4l1.5 -1.1l1.5 0.1l1.5 -0.9l1.5 1.2l1.5 -1l1.5 1.2l1.5 -0.5l3 0.3l1.5 -2l1.5 -0.7l1.5 0.3l4.5 -0.7l1.5 1.2l1.5 0.7l1.5 -1.2l1.5 1.2l1.5 -0.2l1.5 -2.3l1.5 1.3l3 -1.5l1.5 2.1l1.5 -2l1.5 0.7l3 0.5l3 -3.1l1.5 -1l1.5 -1.9l1.5 1l1.5 -0.8l1.5 -2.7l1.5 -1.1l1.5 -0.1l1.5 -0.6l1.5 0.4l3 -2.9l1.5 -4l1.5 -0.3l4.5 -8.8l1.5 -6.4l4.5 -10.7l3 -9.6l3 -4.7l1.5 -3.8l4.5 -4l1.5 0.1l1.5 -1.5l1.5 -0.5l1.5 -1l1.5 0.5l1.5 -2.9l1.5 0.4l3 -5.6l1.5 0.2l1.5 -4l1.5 -0.1l1.5 -1.7l1.5 -1l1.5 -2.4l1.5 1l1.5 -0.2l1.5 3.3l3 3.2l3 5.2l1.5 4.8l1.5 2.9l1.5 4.5l1.5 2.9l3 8.1l1.5 5.8l3 5.9l1.5 5.3l1.5 1.5l1.5 3.2l3 4.3l1.5 3.4l1.5 0.4l1.5 1l1.5 2.1l1.5 0.6l1.5 2.3l1.5 -1.3l1.5 2.9l1.5 -2l1.5 2.6l1.5 -0.2l1.5 -1l1.5 1l1.5 -0.4l3 0.1l1.5 0.5l1.5 1.7l3 0l1.5 -2.2l1.5 0.6l1.5 1.6l1.5 -2.2l1.5 1.7l1.5 -1.1l1.5 1.7l1.5 -2.5l1.5 2l1.5 -1.2l3 -1.1l1.5 2.1l3 -1.9l1.5 0.5l1.5 1.1l1.5 -1.9l1.5 0.7l1.5 -1.3l1.5 -0.1l1.5 1.3l1.5 -0.4l1.5 -1.7l1.5 -0.6l1.5 -0.3l1.5 1l4.5 -2.2l1.5 0.6l3 -0.5l3 -2.7l1.5 -0.9l1.5 1.1l1.5 -1.5l1.5 0.2l1.5 -2.5l1.5 1.3l1.5 -1.9l1.5 0.6l1.5 -0.7l3 -3.7l1.5 1.6l1.5 -1.8l1.5 0.3l1.5 -2.3l1.5 -0.9l1.5 1l1.5 -1.9l1.5 -1.1l3 0l1.5 -2.1l1.5 0.9l3 -0.9l1.5 -1.4l1.5 1.3l3 -0.2l1.5 -1.6l1.5 0.9l1.5 -1l1.5 0.8l1.5 -1.8l1.5 2l1.5 0.2l1.5 -1.2l4.5 0.4l1.5 -1.2l1.5 2.6l1.5 -1.7l3 0.4l1.5 0.8l1.5 2l1.5 -1.5l1.5 0.8l1.5 2.2l1.5 -0.5l1.5 0.3l1.5 2.4l3 1.6l1.5 1.4l1.5 -0.7l1.5 2.9l1.5 0.5l1.5 -0.8l1.5 1l1.5 1.7l1.5 0.8l3 0.3l1.5 1.3l1.5 -0.2l3 2.8l1.5 -1.5l1.5 1.5l1.5 0.7l1.5 -1.2l1.5 1.8l1.5 0.5l1.5 -1.3l1.5 0.1l1.5 1.2l1.5 -0.8l1.5 -0.3l1.5 1.5l1.5 -0.4l1.5 -1.2l1.5 -0.3l3 0.5l1.5 1.4l1.5 -0.6l1.5 0.3l3 -0.3l1.5 -2.2l3 2.2l1.5 -0.1l1.5 -1.9l3 0.8l1.5 -0.8l1.5 0.3l1.5 -1.3l1.5 0.9l1.5 0l1.5 -1.3l1.5 0.2l1.5 2l1.5 -0.6l1.5 0.3l1.5 -0.9l1.5 0.3l3 0l1.5 -2.3l1.5 1.4l1.5 -1.1l1.5 1l1.5 -1.2l3 1.4l3 -2l1.5 0.5l1.5 -0.4l1.5 1.2l1.5 -1.9l1.5 -0.2l1.5 0.6l1.5 -1.6l3 1.6l3 -2.6l3 -0.2l1.5 -1.6l3 -1.4l3 -0.9l4.5 -3.7l1.5 0.1l1.5 -0.4l1.5 -1.8l3 -2.4l1.5 -2.4l1.5 0.1l1.5 -1.9l3 -1.9l3 -2.8l3 -2l1.5 -0.1l1.5 -1l1.5 -0.2l1.5 -2.2l1.5 0.3l1.5 0.6l1.5 -2.2l1.5 0.1l3 -2.1l1.5 1.2l1.5 -2.5l1.5 0.6l1.5 -2.2l1.5 -0.8l1.5 1.6l3 -2.8l1.5 0.8l1.5 0.1l1.5 1l1.5 -1.3l1.5 0.8l1.5 2.6l1.5 0.2l1.5 -0.6l3 2.7l1.5 2.1l1.5 1.1l1.5 1.9l1.5 1.2l1.5 0.5l1.5 1.9l3 2.5l1.5 0.5l1.5 1.9l1.5 0.9l1.5 1.5l1.5 -1.1l1.5 2.8l1.5 -1.5l1.5 2.7l3 0.5l1.5 1.7l1.5 -0.6l1.5 0l1.5 1.2l1.5 0.5l3 -0.8l3 0.4l1.5 0.8l1.5 -1l3 0.7l3 -0.6l1.5 1.2l1.5 0.1l1.5 -0.9l1.5 -0.2l1.5 -0.7l1.5 0.2l1.5 -0.4l1.5 1l1.5 0l1.5 -1.4l1.5 2.1l1.5 -1.6l1.5 1.3l3 0.1l1.5 -2l1.5 0.5l1.5 1.1l1.5 -2.4l1.5 0l1.5 1.3l1.5 -0.3l1.5 1l3 -1.2l1.5 1l1.5 -1.4l1.5 -0.1l1.5 0.3l1.5 -1l1.5 -0.3l1.5 0.4l1.5 -0.9l1.5 1.3l3 -1.9l1.5 -1.5l1.5 0.2l4.5 -1.2l1.5 0l1.5 -0.5l1.5 -2.1l1.5 -1l1.5 -0.5l1.5 0l1.5 -2.7l3 -0.8l1.5 -2.7l1.5 -0.6l1.5 0.7l4.5 -4.7l1.5 1.5l1.5 -1.1l3 0.2l1.5 -0.4l1.5 -1.2l1.5 -0.6l3 1.6l1.5 0.5l1.5 -0.2l1.5 0.7l1.5 1.9l1.5 0.7l1.5 0.2l1.5 2.5l1.5 -0.1l1.5 -0.7l3 3.5l1.5 -0.6l1.5 1.7l1.5 -1.2l3 3.2l1.5 -0.2l1.5 0.6l1.5 -1l1.5 1.1l1.5 0.3l1.5 -0.5l1.5 1.1l1.5 -0.2l1.5 1.2l1.5 -1.1l3 -1.1l1.5 0l1.5 1.5l1.5 -1.7l1.5 -0.1l1.5 0.1l3 1.6l1.5 -0.7l1.5 0.4l1.5 -2l1.5 -0.2l1.5 1.9l1.5 -1.3l1.5 0.9l1.5 -1l1.5 -0.6l1.5 0.2l1.5 -0.6l1.5 2l3 -1.6l1.5 0.2l1.5 -0.3l1.5 -1l1.5 2.1l1.5 -0.9l1.5 0.9l1.5 -1.5l1.5 0.4l3 -1.7l1.5 2.2l1.5 -0.3l1.5 -1.5l1.5 1.4l1.5 -0.3l1.5 -1.4l3 1.5l1.5 -1.3l1.5 1.1l1.5 -2l1.5 0.3l1.5 0.8l1.5 -1.4l1.5 0.1l1.5 1.4l1.5 -1.1l1.5 0.7l1.5 -1.6l1.5 -0.2l1.5 0.3l1.5 -0.5l1.5 1.9l1.5 -1.8l1.5 0.6l1.5 -1.3l1.5 1l1.5 -0.5l1.5 0l1.5 -1l1.5 0l1.5 1.8" fill="none" stroke="#111" stroke-width="1.25"/>
<path d="M85.0 554.2l57.5 -4.7l33.5 -3.2l18 -2.7l5.5 -1.4l4 -1.6l3.5 -2.1l3 -2.6l3 -3.3l3 -4.4l5 -9.3l10 -22.4l2.5 -4.5l2.5 -3.7l3.5 -3.5l8 -6.3l8 -8l2 -1.4l2 -0.6l2 0.4l1.5 1.1l2 2.4l2 3.5l3.5 8.1l7.5 20.6l4 9.9l4 8.1l4 6l4.5 4.6l5 3l6.5 1.9l8.5 1l12 0.2l12.5 -0.4l10.5 -1l9 -1.7l7.5 -2.1l7.5 -2.7l22 -10.3l7 -2.9l7 -2l7 -0.9l7 0.4l7.5 1.7l7 2.5l16 6.8l8 3.1l9 2.6l9 1.8l12.5 0.6l15.5 -0.3l32 -2.2l20 -2l9.5 -2l4 -1.3l4 -1.8l7 -4.2l14 -11.2l6.5 -4.3l21 -9.7l4 -1.3l3.5 -0.6l2.5 0l2.5 0.5l5 2.3l5 3.6l13.5 11.3l4.5 3.1l4 2.1l4.5 1.8l4.5 1.3l5 0.8l5.5 0.5l13.5 -0.1l24.5 -1.2l12.5 -1l8.5 -1.4l6 -1.8l6 -2.7l5 -2.9l10.5 -7l4 -2.2l4 -1.5l3.5 -0.6l4 0.2l4.5 1.3l4 1.8l11 5.9l6 2.5l6 1.5l6.5 0.7l7 0.1l10.5 -0.4l83.5 -5.5" fill="none" stroke="#c42036" stroke-width="1.35"/>
<path d="M85.0 554.4l90.5 -7.3l16.5 -1.9l9 -2l3.5 -1.5l3 -1.7l3 -2.5l2.5 -2.6l5.5 -7.8l8 -14.6l2.5 -4l3 -3.4l1.5 -1l1.5 -0.3l2.5 0.8l3 2.9l2.5 3.7l7 12.2l3.5 5.4l3.5 4.3l4 3.5l4.5 2.4l5 1.4l7 0.8l10.5 0.2l52.5 -0.8l139.5 -3.6l451 -30" fill="none" stroke="#3030c0" stroke-width="1.15"/>
<path d="M85.0 554.5l142 -10.5l253 -7.1l65 -4.5l16.5 -1.6l5.5 -0.9l5 -1.3l4.5 -1.6l4 -1.8l15 -8.4l3.5 -1.3l3.5 -0.6l3.5 0.1l3.5 0.9l14 6l6.5 2.1l8 1.2l9.5 0.1l52 -3l231.5 -15.3" fill="none" stroke="#40c0e8" stroke-width="1.15"/>
<path d="M85.0 554.5l142 -10.5l253 -7.2l62 -4.4l29.5 -2.5l9 -1.1l7 -1.4l6 -1.9l5.5 -2.4l5 -3.1l5 -3.8l14 -13.2l4.5 -3.8l4.5 -2.6l4 -1l2 0.1l2.5 0.5l4.5 2.2l4.5 3.2l12.5 10.3l4.5 3l4 2.2l4.5 1.8l4.5 1.2l5 0.8l6 0.5l15.5 -0.2l34 -1.9l191 -12.3" fill="none" stroke="#e8a030" stroke-width="1.15"/>
<path d="M85.0 629.5l119 -8.5l276 0l151 -7.6l300 -11.4" fill="none" stroke="#1a1a70" stroke-width="1.5"/>
<path d="M85.0 631.1l3 -0.6l3 -0.1l1.5 -0.6l1.5 1.5l3 -1.6l1.5 1.4l1.5 -1.7l1.5 0.3l1.5 1.4l1.5 -2l3 1.7l1.5 -0.2l1.5 -1.8l1.5 0.4l1.5 0.8l1.5 -1l1.5 1.4l1.5 -2l1.5 1.8l3 -2.1l1.5 0.5l1.5 -1l1.5 1.4l1.5 -1.2l1.5 1.5l3 -1.6l1.5 -0.4l1.5 0.8l1.5 -1.1l1.5 1.6l1.5 -2l1.5 0.9l1.5 -0.1l1.5 -0.8l1.5 1.2l1.5 -1.1l1.5 0.6l1.5 -0.3l1.5 -0.8l1.5 0.1l1.5 -0.9l1.5 0.1l1.5 1.7l1.5 -1.5l1.5 0.8l1.5 -1.6l1.5 1.1l1.5 -0.6l1.5 0.2l3 -1.3l1.5 0.5l3 -0.7l1.5 1.4l1.5 -1.2l1.5 0.2l1.5 1.2l1.5 -0.5l3 0.1l1.5 -2l1.5 0.2l1.5 -0.7l1.5 1.5l1.5 -0.2l1.5 -0.9l3 -0.2l1.5 -0.8l1.5 -2.2l1.5 0.3l1.5 -2.4l1.5 -0.1l1.5 -1.8l1.5 -0.9l1.5 1.2l3 -2.2l1.5 -2.5l1.5 -0.8l6 -1.4l1.5 -1.3l3 0.4l1.5 -2l1.5 0.7l1.5 -2l1.5 -1.1l1.5 -3l3 -3.1l3 -6.6l1.5 -0.3l4.5 -8.9l1.5 0.2l3 -5l1.5 -0.4l1.5 -0.9l1.5 1.4l1.5 -1.5l1.5 2.1l1.5 0.2l1.5 -0.9l1.5 2.8l1.5 0.6l3 4.7l1.5 0.7l1.5 1.6l1.5 4.5l1.5 0.9l1.5 3.5l1.5 1.6l3 4.5l3 2.8l1.5 0.7l1.5 3.2l1.5 0.7l1.5 1.5l1.5 2.2l1.5 -1.1l1.5 2.6l1.5 -1.1l1.5 2.4l1.5 0.8l1.5 -0.9l3 2.6l6 -1.4l1.5 1l1.5 0.2l1.5 -0.4l1.5 0.4l1.5 -0.4l1.5 1.5l1.5 0l1.5 -1.1l1.5 0l1.5 0.8l1.5 -0.2l1.5 1.3l1.5 -1.6l1.5 -0.1l1.5 1.5l1.5 -1.9l1.5 1l1.5 -0.6l1.5 1.2l1.5 -0.8l1.5 0.5l1.5 -1.6l1.5 1.2l3 -0.7l1.5 0.7l1.5 0.1l1.5 -2l3 0.3l3 -1.1l1.5 0.4l1.5 -0.4l1.5 1.1l3 -2l3 0.5l6 -2.3l1.5 2.2l1.5 -0.9l1.5 -2.1l1.5 1.4l1.5 0.3l3 -2.9l1.5 0.7l1.5 -0.5l1.5 -1l1.5 0.6l1.5 -1.7l1.5 2.1l1.5 -1.1l1.5 -0.3l1.5 0.5l3 -2.3l4.5 -1.4l1.5 1.8l1.5 -0.1l1.5 -1.6l1.5 -0.5l1.5 1.1l3 0.4l1.5 -2.1l1.5 1.5l1.5 0l1.5 -0.3l1.5 -1.2l1.5 -0.4l1.5 1.6l1.5 -1.3l3 0.6l1.5 -0.4l1.5 1.3l1.5 -1.5l1.5 -0.4l1.5 1.6l3 1.1l1.5 -0.1l3 1.3l1.5 -0.9l1.5 0.4l1.5 -0.4l3 1.9l1.5 -0.8l1.5 2.1l1.5 -0.9l1.5 1.2l1.5 1.8l1.5 -1.8l1.5 0.3l1.5 1.5l1.5 -0.2l1.5 1.8l1.5 -1.5l1.5 2.5l3 0.5l1.5 -0.6l1.5 -0.1l1.5 1.2l4.5 -0.2l6 1.9l1.5 -1.9l4.5 1.2l4.5 -1.2l3 1l1.5 1.3l3 -0.4l1.5 0.3l1.5 -0.1l1.5 -0.9l1.5 0.5l1.5 -2l1.5 1.5l1.5 -0.2l1.5 -0.9l3 1.6l1.5 -1.3l1.5 0.4l1.5 -1l1.5 0l1.5 1.4l1.5 -2.3l1.5 0.3l1.5 1.2l3 -1.7l1.5 1.4l1.5 -0.8l1.5 0.5l1.5 -0.5l3 0.2l3 -1.4l1.5 0.1l1.5 1.8l3 -2.2l1.5 1.9l1.5 -1.7l1.5 -0.5l1.5 1l1.5 -0.8l1.5 0.5l1.5 0.1l1.5 -1l1.5 0.8l1.5 -1.3l1.5 0.9l1.5 0.1l1.5 -1.5l1.5 0.7l1.5 -1l3 1.6l1.5 -1.1l3 -0.1l1.5 -2.1l1.5 1.9l1.5 -1.3l1.5 -2.1l1.5 1.2l3 -3.2l1.5 1.2l1.5 -1.9l1.5 -0.4l1.5 -2.6l1.5 0.6l1.5 -2.8l3 -1.2l1.5 -1.8l1.5 0.7l1.5 -1.8l1.5 -0.5l1.5 0.4l1.5 -1.3l1.5 0.6l1.5 -1.2l1.5 0.2l1.5 -1.2l1.5 0.5l1.5 -0.5l1.5 -2.2l1.5 1.2l1.5 -1.3l1.5 0.9l1.5 -0.3l1.5 0.4l1.5 -1.7l4.5 3.3l1.5 0l1.5 -1.1l1.5 2.2l1.5 -0.5l3 3.5l1.5 -0.9l1.5 3l1.5 0.2l1.5 -0.2l1.5 0.7l3 3.2l1.5 0l1.5 -0.6l1.5 0.3l1.5 0.8l1.5 2.2l1.5 -1.2l1.5 1.3l1.5 -0.3l1.5 1.3l3 -1.1l1.5 2.1l1.5 -0.8l4.5 1.3l1.5 -2.4l1.5 0.9l1.5 -0.5l3 1.9l1.5 -0.2l1.5 -2l1.5 0.3l1.5 1.7l3 -1.2l1.5 0.2l1.5 -0.9l1.5 1.7l1.5 -1.2l1.5 1.2l1.5 -0.7l1.5 -1.4l1.5 0.6l1.5 -0.3l1.5 1.7l1.5 -0.9l1.5 -1.4l6 1.1l3 -0.7l1.5 -0.9l1.5 1.4l3 -1.6l3 2.4l1.5 -2.5l1.5 0.1l1.5 1.3l1.5 -1.2l1.5 -0.1l1.5 0.5l1.5 -0.8l1.5 0.6l1.5 -0.3l1.5 1l1.5 -0.2l1.5 -2.7l1.5 1.1l3 0.2l4.5 -1.8l1.5 -1.1l1.5 -0.7l1.5 0.9l3 -0.6l3 -2.6l1.5 0.7l1.5 -0.6l1.5 -1l1.5 -0.1l1.5 -1.2l1.5 0.2l1.5 -0.7l1.5 -1.1l1.5 0.5l1.5 -0.2l1.5 1.6l1.5 -1.4l3 -0.5l3 0.6l3 -0.5l1.5 2.6l1.5 -0.8l3 1l1.5 -0.3l3 0.2l1.5 1l1.5 0.3l1.5 1.5l1.5 -0.1l1.5 1.3l1.5 -1.3l1.5 1.8l3 -1.8l1.5 0.5l3 2.4l1.5 -1.6l1.5 1.2l1.5 -0.8l1.5 1.2l1.5 -2.1l3 2.2l1.5 -1.6l1.5 -0.1l1.5 -0.6l3 0.6l1.5 1.1l1.5 -1.3l1.5 0.4l1.5 -0.5l3 1.6l1.5 -0.6l1.5 -1.3l1.5 1.4l1.5 0.5l3 -2.4l1.5 1.9l1.5 0.1l1.5 -1.5l1.5 -0.6l1.5 0.1l3 1.7l1.5 -0.7l1.5 0.7l1.5 -1.9l1.5 0.2l1.5 1.1l3 -1l1.5 0.6l3 -1.7l1.5 0.9l1.5 -1l1.5 1.4l1.5 -0.8l3 0.6l1.5 -1l1.5 0.5l1.5 -1.2l1.5 2.3l1.5 -1l1.5 1l1.5 -2.4l1.5 1.4l1.5 0.2l3 -1.8l3 0l1.5 1.6l1.5 -1.8l1.5 1.8l1.5 -1l3 0.3l4.5 -0.2" fill="none" stroke="#111" stroke-width="1.25"/>
<path d="M85.0 629.3l96 -7.4l28 -2.9l7.5 -1.6l3 -1.1l3 -1.6l3 -2.3l2.5 -2.4l5.5 -7.1l9.5 -15.8l3.5 -5l2 -2.2l2 -1.6l2 -1.1l2.5 -0.5l2 0.2l2 0.7l2 1.3l2.5 2.2l4 4.9l12.5 17.9l4.5 5.1l4.5 3.8l5 2.9l5.5 2l7 1.2l9 0.7l20.5 0l18 -1.3l15 -2.3l30.5 -6.2l8.5 -1.1l7.5 -0.4l8.5 0.3l8.5 0.9l35.5 7.3l11 1.7l5.5 0.3l13.5 0.4l16.5 -0.4l27.5 -1.3l26.5 -1.6l10.5 -1.2l8 -2.1l7 -3.1l13 -8.2l5.5 -2.8l5 -1.9l5.5 -1.6l4.5 -0.9l3.5 -0.4l4.5 0.5l4.5 1.4l4.5 2.2l12 6.9l7.5 3.1l8 1.8l10 0.9l13.5 -0.1l26 -0.7l14.5 -0.7l10 -0.8l7 -1l6.5 -1.4l21 -6.3l4.5 -0.9l4 -0.3l4.5 0.1l5 0.6l16 3.8l6.5 1.2l6 0.7l7 0.4l18.5 -0.2l78.5 -2.9" fill="none" stroke="#c42036" stroke-width="1.35"/>
<path d="M85.0 629.4l90 -6.6l40 -3.5l5.5 -1.5l5 -2.3l5 -3.5l10.5 -9.2l3 -1.8l3 -0.6l3 0.6l3 1.8l10.5 9.2l5 3.5l4.5 2.2l5.5 1.5l7 0.8l10 0.5l56 0.4l128.5 0.1l151 -7.6l300 -11.4" fill="none" stroke="#3030c0" stroke-width="1.15"/>
<path d="M85.0 629.5l119 -8.5l276 0l78 -4.1l18.5 -1.3l5.5 -0.8l5 -1.1l5 -1.7l11 -4.3l3.5 -0.9l3 -0.3l5.5 0.6l11.5 3.4l6 1.2l6.5 0.7l9 0.1l283 -10.5" fill="none" stroke="#40c0e8" stroke-width="1.15"/>
<path d="M85.0 629.5l119 -8.5l276 -0.1l88 -4.7l20 -1.7l6.5 -1.1l5.5 -1.4l5 -1.9l4.5 -2.2l17 -10.5l4 -1.6l3.5 -0.5l4 0.4l4 1.3l14.5 7.8l7.5 3.1l8.5 1.9l10 0.8l15.5 -0.2l34.5 -1l198.5 -7.4" fill="none" stroke="#e8a030" stroke-width="1.15"/>
<path d="M85.0 719.0l115 -9l95 2.5l185 -4.5l320 -6l131 -11.5" fill="none" stroke="#1a1a70" stroke-width="1.5"/>
<path d="M520.0 706.7l1.5 0.5l1.5 -0.6l1.5 0.5l3 0l1.5 -0.6l3 0.8l1.5 -0.7l1.5 -0.2l3 0.7l1.5 -1l1.5 -0.2l1.5 0.6l3 0.2l1.5 -0.5l1.5 0.7l1.5 -0.9l1.5 0.6l1.5 -0.9l4.5 -0.1l1.5 0.4l1.5 0.1l1.5 -0.5l1.5 0.8l1.5 -0.7l1.5 -0.3l1.5 -0.1l1.5 0.6l1.5 0.2l1.5 -1l1.5 -0.3l1.5 0.8l1.5 -0.7l1.5 0.7l1.5 -0.8l1.5 0l1.5 -0.6l1.5 0.2l3 -1.3l1.5 0.2l1.5 -1.5l1.5 0.1l1.5 -1.6l1.5 -0.1l1.5 -1.2l1.5 -0.4l1.5 -2l1.5 -0.5l1.5 -1.4l1.5 -0.6l1.5 -1.1l3 -3.3l7.5 -4.8l1.5 -0.1l3 -1.7l1.5 0.3l1.5 -1.3l1.5 0.1l1.5 -0.7l1.5 0.7l1.5 0l1.5 -0.6l1.5 0.9l1.5 0.6l1.5 -0.1l1.5 0.9l3 2.5l1.5 0.2l1.5 1.8l3 2.1l3 2.9l1.5 0.3l1.5 1.9l1.5 0.4l3 2.4l1.5 0l1.5 1.5l1.5 0.8l1.5 -0.2l1.5 0.1l1.5 0.5l1.5 1.4l1.5 -0.8l1.5 1.3l1.5 -0.7l1.5 0.9l1.5 -0.6l1.5 0.2l1.5 0.7l1.5 -0.7l3 1.1l1.5 -0.2l3 0.4l1.5 -1.2l1.5 0.3l1.5 0.7l1.5 -0.2l1.5 -0.8l1.5 0.6l1.5 -0.3l1.5 0.2l3 -0.5l1.5 1.1l1.5 -0.8l1.5 0.7l1.5 -1l1.5 0.5l1.5 -0.5l1.5 0.4l1.5 -0.4l1.5 0.6l1.5 -0.6l1.5 0.6l3 -0.8l4.5 0.9l1.5 -0.7l1.5 -0.2l1.5 0.9l3 -0.4l1.5 -0.6l4.5 -0.5l1.5 -0.1l1.5 0.4l3 -0.2l3 -1l1.5 0.6l4.5 -1.1l3 -0.2l6 -2.7l1.5 -0.5l1.5 0.1l1.5 -1.3l3 -1.3l1.5 -1l1.5 0.4l1.5 -1.9l3 -0.1l1.5 -1.3l1.5 -0.1l3 -1.3l3 -0.6l1.5 0.7l3 0l1.5 -0.9l1.5 0.9l1.5 -0.2l1.5 0.7l3 0.4l1.5 1.2l1.5 -0.7l1.5 1.4l1.5 0.6l1.5 0.1l3 1.5l1.5 -0.4l3 1.5l1.5 0l1.5 0.8l1.5 0l4.5 1.1l1.5 -0.2l1.5 0.5l3 -0.2l1.5 0.5l1.5 -0.3l1.5 0.7l1.5 -0.5l1.5 0.3l6 -0.9l1.5 0.8l1.5 -0.6l3 -0.2l1.5 0.2l1.5 -0.8l1.5 -0.2l1.5 0.7l1.5 -0.6l4.5 0.2l1.5 -0.2l1.5 -1.1l3 0.7l1.5 -0.2l1.5 -0.9l4.5 -0.4l3 0.5l4.5 -1.2l3 0.8l3 -0.9l4.5 0l1.5 -0.9l1.5 0.5l4.5 -0.9l4.5 -0.2l1.5 -0.6l3 0.4l1.5 -0.8l1.5 0.1l1.5 0.5l1.5 -0.7l3 -0.3l1.5 0.6l1.5 -1l3 0.6l1.5 -0.9l3 0.5l1.5 -0.4" fill="none" stroke="#111" stroke-width="1.25"/>
<path d="M85.0 718.9l77.5 -6.4l37.5 -3.7l10.5 -0.5l4.5 -0.6l3.5 -0.8l3 -1.1l2.5 -1.4l2.5 -1.8l2.5 -2.4l2.5 -3l3 -4.3l9 -15.7l3.5 -5.3l2 -2.2l2.5 -2.1l2 -1l2.5 -0.5l2.5 0.2l2 0.9l2 1.3l2.5 2.5l4 5.4l8 12.9l4 5.9l4 4.9l4 3.8l4.5 3l4.5 1.8l5.5 1.1l7.5 0.6l9.5 0.1l10.5 -0.3l10 -0.7l9 -1.1l15.5 -2.7l32 -7.5l8.5 -1.3l8 -0.5l7.5 0.1l8 0.8l37 6.9l10.5 1.4l12 0.9l15 0.5l20 -0.1l36.5 -0.9l16.5 -0.8l8.5 -1.4l6.5 -2.2l6.5 -3.8l11.5 -8.9l5 -3.2l6.5 -2.7l3.5 -0.9l3 -0.3l4.5 0.4l4.5 1.9l4 2.6l12 9.1l4 2.5l3.5 1.6l4.5 1.6l4.5 0.9l11.5 1l46 -0.3l11.5 -0.4l8.5 -0.8l6 -1l6 -1.6l6 -2.1l15 -6.2l4.5 -1.3l4.5 -0.6l4 0.1l4.5 0.8l18 5.4l6 1.5l6 0.9l7 0.3l8 -0.1l10.5 -0.7l78 -6.8" fill="none" stroke="#c42036" stroke-width="1.35"/>
<path d="M85.0 719.0l115 -9.5l10.5 -0.2l7 -0.7l5.5 -1.5l4.5 -2.4l4.5 -3.4l9.5 -8.9l2.5 -1.5l2.5 -0.7l2.5 0.4l3 1.7l12 11.5l3.5 2.6l3.5 2l4 1.4l5 1l15 1.2l49.5 -0.8l135.5 -3.2l320 -6l131 -11.5" fill="none" stroke="#3030c0" stroke-width="1.15"/>
<path d="M85.0 719.0l115 -9l95 2.5l277 -6.5l9.5 -0.7l7 -1.4l6 -2l11.5 -5.1l3 -0.9l3 -0.4l3 0.3l3 0.7l11 4.5l5.5 1.8l5.5 1l7 0.6l28.5 -0.2l124.5 -2.2l131 -11.5" fill="none" stroke="#40c0e8" stroke-width="1.15"/>
<path d="M85.0 719.0l115 -9l95 2.5l259 -6.1l30.5 -1.1l11.5 -1.2l4.5 -1.1l4 -1.4l3.5 -1.6l4 -2.4l14 -10.2l3.5 -1.6l3.5 -0.7l3.5 0.5l3.5 1.5l14 9.7l4 2.2l3.5 1.5l4.5 1.4l4.5 0.9l12 0.7l33.5 -0.1l84 -1.5l131 -11.4" fill="none" stroke="#e8a030" stroke-width="1.15"/>
<line x1="188.2" y1="43.9" x2="202.4" y2="54.2" stroke="#000" stroke-width="1.2"/>
<polygon points="216.1,64.2 199.4,58.2 205.3,50.2" fill="#000"/>
<line x1="297.4" y1="78.6" x2="276.0" y2="108.0" stroke="#000" stroke-width="1.2"/>
<polygon points="266.0,121.7 272.0,105.0 280.1,110.9" fill="#000"/>
<line x1="150.0" y1="160.0" x2="200.5" y2="202.5" stroke="#000" stroke-width="1.2"/>
<polygon points="213.5,213.5 197.3,206.4 203.7,198.7" fill="#000"/>
<line x1="292.7" y1="265.2" x2="277.5" y2="274.4" stroke="#000" stroke-width="1.2"/>
<polygon points="262.9,283.2 274.9,270.1 280.0,278.7" fill="#000"/>
<line x1="148.2" y1="302.2" x2="191.9" y2="337.5" stroke="#000" stroke-width="1.2"/>
<polygon points="205.1,348.2 188.7,341.4 195.0,333.6" fill="#000"/>
<line x1="262.8" y1="370.5" x2="243.0" y2="384.9" stroke="#000" stroke-width="1.2"/>
<polygon points="229.3,394.9 240.1,380.8 246.0,388.9" fill="#000"/>
<line x1="189.7" y1="479.2" x2="211.9" y2="497.0" stroke="#000" stroke-width="1.2"/>
<polygon points="225.2,507.6 208.8,500.9 215.0,493.1" fill="#000"/>
<line x1="314.6" y1="464.0" x2="280.5" y2="470.8" stroke="#000" stroke-width="1.2"/>
<polygon points="263.8,474.1 279.5,465.9 281.4,475.7" fill="#000"/>
<line x1="211.8" y1="586.9" x2="222.7" y2="593.2" stroke="#000" stroke-width="1.2"/>
<polygon points="237.5,601.6 220.3,597.5 225.2,588.8" fill="#000"/>
<line x1="292.6" y1="568.5" x2="280.1" y2="573.4" stroke="#000" stroke-width="1.2"/>
<polygon points="264.2,579.5 278.2,568.7 281.9,578.0" fill="#000"/>
<line x1="198.9" y1="668.6" x2="224.2" y2="681.2" stroke="#000" stroke-width="1.2"/>
<polygon points="239.4,688.8 222.0,685.7 226.4,676.7" fill="#000"/>
<line x1="315.6" y1="654.8" x2="278.6" y2="665.7" stroke="#000" stroke-width="1.2"/>
<polygon points="262.3,670.5 277.2,660.9 280.0,670.5" fill="#000"/>
<line x1="563.1" y1="91.3" x2="576.2" y2="110.6" stroke="#000" stroke-width="1.2"/>
<polygon points="585.7,124.7 572.0,113.4 580.3,107.8" fill="#000"/>
<line x1="631.7" y1="100.3" x2="634.8" y2="121.5" stroke="#000" stroke-width="1.2"/>
<polygon points="637.2,138.3 629.8,122.2 639.7,120.8" fill="#000"/>
<line x1="560.4" y1="251.1" x2="572.8" y2="258.5" stroke="#000" stroke-width="1.2"/>
<polygon points="587.4,267.2 570.2,262.8 575.4,254.2" fill="#000"/>
<line x1="622.1" y1="240.1" x2="631.6" y2="272.0" stroke="#000" stroke-width="1.2"/>
<polygon points="636.5,288.3 626.8,273.4 636.4,270.6" fill="#000"/>
<line x1="555.3" y1="345.3" x2="572.4" y2="365.7" stroke="#000" stroke-width="1.2"/>
<polygon points="583.3,378.7 568.5,368.9 576.2,362.5" fill="#000"/>
<line x1="582.3" y1="481.5" x2="593.0" y2="494.8" stroke="#000" stroke-width="1.2"/>
<polygon points="603.7,508.0 589.1,497.9 596.9,491.6" fill="#000"/>
<line x1="663.0" y1="460.0" x2="650.4" y2="480.9" stroke="#000" stroke-width="1.2"/>
<polygon points="641.6,495.4 646.1,478.3 654.7,483.4" fill="#000"/>
<line x1="589.8" y1="566.2" x2="598.3" y2="577.7" stroke="#000" stroke-width="1.2"/>
<polygon points="608.4,591.4 594.3,580.7 602.3,574.8" fill="#000"/>
<line x1="677.6" y1="580.5" x2="659.1" y2="588.8" stroke="#000" stroke-width="1.2"/>
<polygon points="643.6,595.8 657.1,584.3 661.2,593.4" fill="#000"/>
<line x1="584.3" y1="665.0" x2="599.6" y2="677.3" stroke="#000" stroke-width="1.2"/>
<polygon points="612.8,688.0 596.4,681.2 602.7,673.4" fill="#000"/>
<line x1="665.5" y1="660.6" x2="649.8" y2="671.6" stroke="#000" stroke-width="1.2"/>
<polygon points="635.9,681.4 646.9,667.5 652.7,675.7" fill="#000"/>
<line x1="1323.4" y1="99" x2="1323.4" y2="504.5" stroke="#444" stroke-width="1.2"/>
<line x1="1338.9" y1="70.8" x2="1338.9" y2="519" stroke="#333" stroke-width="1.2"/>
<line x1="1360.6" y1="110" x2="1360.6" y2="533.8" stroke="#888" stroke-width="1.1"/>
<path d="M1060.3,198.2L1067.1,200.5L1071.6,192.5L1077.2,196.2L1082.9,201.6L1089.7,199.3L1098.7,203.8L1107.7,201.6L1114.5,198.2L1121.3,190.3L1128.0,194.8L1134.8,198.2L1143.8,190.3L1152.9,192.5L1157.4,184.7L1163.0,193.7L1168.7,186.9L1175.4,184.7L1180.0,185.8L1186.7,189.2L1193.5,177.9L1200.3,172.2L1209.3,174.5L1214.9,170.8L1220.6,168.8L1225.1,171.1L1231.9,170.0L1240.0,162.2L1249.0,162.2L1251.3,166.7L1255.8,157.7L1264.8,155.5L1269.3,152.1L1273.9,153.2L1277.2,145.3L1282.9,146.4L1288.5,141.9L1294.2,137.4L1297.6,141.9L1302.1,136.3L1305.5,140.8L1312.2,129.5L1316.7,127.2L1323.5,126.1L1328.0,125.0L1332.6,127.2L1337.1,130.6L1340.5,126.1L1346.1,121.6L1349.5,126.1L1354.0,123.9L1361.9,125.0L1366.4,122.7L1370.9,119.3L1375.4,125.0L1381.1,118.2L1384.5,121.6L1389.0,129.5L1395.8,132.9L1402.5,134.0L1408.2,135.1L1413.8,134.0L1418.3,139.7L1425.1,145.3L1434.1,147.6L1440.0,147.6L1449.0,148.7L1455.8,153.2L1460.3,146.4L1467.1,149.8L1473.9,157.7L1481.8,148.7L1487.4,154.3L1493.1,157.4L1498.7,158.8L1507.7,150.9L1516.7,160.0L1524.7,150.9L1532.6,156.6L1539.3,162.2L1546.1,162.2L1551.7,155.5L1557.4,160.0L1566.4,155.5L1572.1,158.9L1577.7,164.5L1586.7,160.0L1592.3,161.3L1598.0,161.1L1607.0,163.4L1613.8,162.2L1620.6,170.1L1629.8,166.7L1636.5,160.0L1645.6,162.2L1652.3,164.5L1657.9,164.2L1663.6,165.6L1670.4,174.7L1678.3,162.2L1681.7,169.0L1689.6,157.7L1694.1,171.3L1702.0,166.7L1708.8,169.0L1717.8,169.0L1726.8,162.2L1733.6,161.1L1740.4,172.4L1749.4,166.7L1758.4,163.4L1764.1,170.1L1769.7,174.7L1775.3,170.7L1781.0,169.0L1787.8,168.6L1794.6,166.7L1800.2,168.7L1805.8,172.4L1812.6,164.5L1816.0,165.6" fill="none" stroke="#000" stroke-width="3.2" stroke-linejoin="round" stroke-linecap="round"/>
<path d="M1050.2,261.4L1053.5,263.6L1058.0,259.1L1067.1,259.1L1073.9,262.1L1081.8,255.7L1086.8,258.1L1091.9,262.5L1096.4,251.2L1101.7,257.7L1106.9,261.1L1112.2,267.0L1117.9,260.2L1120.1,265.9L1123.5,254.6L1130.3,255.3L1137.1,253.5L1142.7,253.5L1148.3,255.7L1152.9,251.2L1157.4,255.7L1164.1,246.7L1173.2,242.2L1176.6,252.4L1182.2,244.5L1187.8,237.7L1193.5,242.2L1202.5,236.5L1208.2,230.9L1213.2,233.4L1218.3,234.3L1225.1,225.3L1234.1,230.9L1240.0,218.7L1244.5,220.9L1249.0,225.4L1253.5,216.4L1258.0,213.0L1262.6,214.2L1269.3,206.3L1276.1,207.4L1281.8,200.6L1287.4,206.3L1291.9,196.1L1301.0,189.3L1305.5,190.5L1314.5,182.6L1321.3,181.4L1330.3,180.3L1337.1,180.3L1342.7,183.7L1348.4,180.3L1351.7,176.9L1358.5,188.2L1361.9,179.2L1366.4,182.6L1370.9,187.1L1375.4,184.8L1382.2,193.8L1389.0,190.5L1398.0,193.8L1404.8,196.1L1411.6,200.6L1418.3,202.9L1425.1,208.5L1431.9,207.4L1440.0,205.1L1446.8,208.5L1451.8,211.4L1456.9,216.4L1462.0,214.4L1467.1,210.8L1472.8,212.5L1478.4,215.3L1487.4,211.9L1493.1,213.6L1498.7,213.0L1507.7,220.9L1513.3,222.3L1519.0,225.4L1524.7,225.2L1530.3,223.2L1539.3,220.9L1546.1,227.7L1551.8,221.1L1557.4,216.4L1566.4,220.9L1573.2,224.4L1580.0,225.4L1586.8,223.2L1593.5,223.2L1602.5,220.9L1608.2,228.8L1613.8,223.2L1623.0,224.3L1629.8,227.7L1638.8,231.1L1645.6,225.4L1654.6,227.7L1659.7,226.5L1664.8,224.3L1670.4,232.2L1679.4,226.6L1685.1,226.7L1690.7,228.8L1699.7,226.6L1708.8,236.7L1717.8,231.1L1724.6,227.7L1730.2,229.1L1735.9,228.8L1741.6,229.6L1747.2,232.2L1753.9,235.6L1763.0,227.7L1769.8,229.4L1776.5,228.8L1782.5,227.2L1788.6,228.2L1794.6,226.6L1803.6,232.2L1809.2,232.1L1814.9,234.5" fill="none" stroke="#000" stroke-width="3.2" stroke-linejoin="round" stroke-linecap="round"/>
<path d="M1066.2,373.3L1076.1,365.2L1083.3,364.2L1091.5,371.5L1096.9,364.2L1104.1,377.8L1112.2,367.0L1119.5,363.3L1124.0,368.8L1127.6,364.2L1134.8,369.7L1142.9,358.8L1150.2,362.4L1154.7,353.4L1160.1,362.4L1164.6,358.8L1171.8,343.5L1179.0,348.9L1184.5,346.2L1193.5,337.2L1197.1,339.9L1200.0,335.4L1204.5,333.2L1213.5,320.8L1220.2,319.3L1227.0,319.6L1231.6,323.0L1238.3,317.7L1245.0,310.6L1252.0,306.0L1256.4,290.3L1259.8,289.2L1265.5,301.6L1274.5,285.8L1279.8,284.0L1285.1,284.1L1290.3,272.2L1296.4,266.1L1303.8,254.2L1305.5,254.8L1314.5,241.2L1319.0,240.1L1325.8,241.2L1330.3,236.7L1334.8,234.5L1339.3,227.7L1342.7,224.3L1348.4,227.7L1355.1,224.3L1360.8,220.9L1366.4,223.2L1373.2,220.9L1380.0,225.4L1384.5,236.7L1391.2,240.1L1398.0,236.7L1402.5,248.0L1407.0,257.0L1411.6,259.3L1418.3,250.3L1422.8,254.8L1429.6,268.3L1436.4,275.1L1440.0,276.9L1445.6,270.2L1453.5,273.5L1460.3,275.8L1469.3,283.7L1472.7,279.2L1480.6,289.3L1489.7,288.2L1494.8,288.3L1499.8,286.0L1506.0,286.6L1512.2,289.3L1517.8,294.9L1523.5,298.4L1532.6,296.1L1538.2,292.7L1543.8,299.5L1550.6,304.0L1556.2,302.1L1561.9,301.8L1569.8,302.9L1573.2,310.8L1582.2,300.6L1590.1,296.1L1595.2,302.9L1600.3,308.5L1609.3,305.1L1618.3,306.3L1623.0,307.2L1629.8,310.6L1636.5,308.4L1645.6,306.1L1654.6,309.5L1663.6,311.8L1672.7,305.0L1677.2,311.8L1682.8,310.7L1688.5,311.8L1690.7,308.4L1697.5,315.1L1704.3,323.0L1713.3,318.5L1722.3,319.7L1730.2,311.8L1733.6,321.9L1738.1,327.6L1741.5,314.0L1749.4,315.1L1757.3,320.8L1760.7,311.8L1769.7,325.3L1773.1,315.1L1781.0,318.5L1790.0,320.8L1799.1,324.2L1808.1,324.2L1813.7,320.8L1816.0,323.0" fill="none" stroke="#000" stroke-width="3.2" stroke-linejoin="round" stroke-linecap="round"/>
<path d="M1054.4,469.0L1059.9,467.2L1065.3,462.7L1073.4,465.4L1079.7,454.5L1084.2,468.1L1088.8,458.2L1097.8,459.1L1103.2,462.7L1112.2,465.4L1115.9,460.0L1123.1,460.0L1130.3,451.8L1134.8,454.5L1138.4,450.9L1146.6,455.5L1151.1,460.9L1161.0,450.9L1170.0,460.0L1177.3,463.6L1184.5,445.5L1191.7,436.5L1197.1,442.8L1202.5,440.1L1208.0,432.9L1213.4,435.6L1220.6,433.8L1224.2,437.4L1227.8,432.9L1231.4,435.6L1238.7,429.3L1245.9,418.4L1249.5,416.6L1254.0,418.4L1257.6,399.5L1264.8,399.5L1269.3,407.6L1276.6,385.0L1280.2,382.3L1285.6,391.3L1291.9,374.2L1300.1,372.4L1307.9,359.0L1315.8,351.9L1322.9,359.0L1325.3,349.5L1334.8,342.4L1341.9,354.2L1349.0,338.5L1355.3,336.1L1360.8,339.2L1364.8,350.3L1369.5,339.2L1372.7,352.7L1382.1,347.1L1390.0,347.9L1399.5,366.1L1407.4,349.5L1415.3,374.8L1420.0,364.5L1425.8,362.7L1431.6,364.0L1437.4,362.1L1440.0,363.8L1445.6,379.6L1451.3,368.4L1458.1,370.6L1462.6,368.4L1469.3,379.6L1476.1,362.7L1485.1,368.4L1493.0,374.0L1500.9,370.6L1510.0,365.0L1516.7,368.4L1525.8,370.6L1532.5,363.8L1539.3,359.3L1546.1,358.8L1552.9,357.1L1557.4,359.3L1564.2,351.4L1569.8,354.7L1575.4,359.3L1581.1,357.1L1586.7,353.7L1595.8,350.3L1600.3,342.4L1604.8,349.2L1613.8,352.6L1620.6,346.9L1629.6,349.2L1634.1,359.3L1637.7,362.6L1641.1,351.3L1644.4,354.7" fill="none" stroke="#000" stroke-width="3.2" stroke-linejoin="round" stroke-linecap="round"/>
<path d="M1068.9,555.7L1073.4,555.7L1077.0,561.1L1079.7,558.4L1083.3,547.6L1087.0,557.5L1089.7,551.2L1094.2,549.4L1097.8,551.2L1103.2,557.5L1106.8,557.5L1114.0,549.4L1117.7,552.1L1124.9,548.5L1129.4,540.4L1135.7,543.1L1141.1,546.7L1144.7,546.7L1150.2,535.9L1153.8,535.9L1159.2,542.2L1164.6,543.1L1169.1,547.6L1171.8,546.7L1174.5,535.9L1178.2,543.1L1182.7,539.5L1189.9,534.0L1194.4,533.1L1198.9,538.6L1204.3,529.5L1209.8,518.7L1213.4,520.5L1220.6,513.3L1226.0,511.5L1229.3,500.6L1233.2,512.4L1238.7,507.9L1242.3,508.8L1245.9,503.3L1248.6,506.1L1256.7,493.4L1260.3,492.5L1263.9,481.7L1271.2,476.3L1274.8,472.6L1280.2,463.6L1285.6,453.6L1292.8,437.4L1298.3,423.8L1301.9,433.8L1310.9,406.7L1317.7,390.5L1323.5,391.3L1328.9,395.9L1338.0,393.9L1343.0,400.8L1348.0,410.0L1353.2,418.3L1358.4,425.5L1362.9,407.4L1368.0,418.1L1373.0,430.0L1378.1,439.0L1383.2,445.8L1390.0,450.3L1399.0,442.4L1404.5,446.2L1410.0,452.0L1419.3,455.9L1425.0,449.2L1434.9,462.3L1441.1,458.5L1447.3,453.6L1456.0,463.6L1461.6,459.1L1467.2,457.8L1472.7,452.4L1478.3,449.9L1483.9,458.5L1489.5,466.0L1495.7,461.2L1501.9,458.6L1507.4,461.4L1512.8,461.6L1518.3,465.8L1523.7,465.4L1529.2,468.5L1535.4,462.3L1541.6,453.6L1551.5,464.8L1557.3,461.7L1563.1,460.6L1568.9,457.4L1575.1,471.0L1578.8,449.9L1584.6,452.7L1590.4,457.9L1596.2,461.1L1602.4,448.7L1611.0,464.8L1616.0,456.1L1621.0,449.9L1626.8,456.4L1632.6,460.8L1638.4,467.3L1645.8,462.5L1653.3,456.1L1658.9,458.8L1664.4,464.1L1670.0,465.4L1675.6,469.8L1683.0,462.3L1690.5,477.2L1696.3,479.0L1702.0,478.0L1707.8,479.7L1715.3,471.0L1725.2,484.7L1728.9,471.0L1735.8,476.6L1742.6,481.0L1752.5,487.1L1758.7,474.7L1764.3,480.8L1769.9,488.4L1774.8,476.0L1780.4,480.9L1786.0,482.3L1791.6,488.4L1797.2,490.9L1803.4,483.3L1809.6,477.2L1814.5,484.7" fill="none" stroke="#000" stroke-width="3.2" stroke-linejoin="round" stroke-linecap="round"/>
<path d="M1060.3,754.4L1066.4,757.4L1075.5,741.2L1082.7,750.3L1089.8,735.1L1094.8,742.2L1102.0,735.1L1107.0,735.1L1110.1,730.0L1114.1,737.1L1119.2,728.0L1122.3,728.0L1126.3,735.1L1129.4,722.9L1137.5,721.9L1140.5,717.8L1147.7,722.9L1153.8,718.8L1157.8,718.8L1163.9,714.8L1170.0,701.6L1175.1,707.7L1182.2,695.5L1186.3,695.5L1191.3,700.5L1197.4,692.4L1202.5,675.2L1210.6,664.0L1214.7,667.0L1217.7,649.8L1221.8,660.9L1228.9,645.7L1234.0,648.8L1238.0,639.6L1241.1,641.6L1245.2,628.4L1249.2,632.5L1252.3,615.2L1257.3,608.1L1262.2,593.6L1264.0,590.0L1266.7,597.3L1271.2,570.2L1274.8,571.1L1278.4,561.1L1285.6,535.9L1290.1,514.2L1294.6,513.3L1300.1,492.5L1301.9,476.3L1306.4,478.1L1310.9,465.4L1314.5,460.0L1317.7,454.8L1324.5,439.0L1330.2,445.1L1335.8,452.6L1340.3,468.4L1349.3,488.7L1356.1,495.4L1362.9,515.8L1371.9,515.8L1376.4,531.6L1385.4,538.3L1394.5,556.4L1403.5,549.6L1408.0,558.6L1414.0,563.2L1420.0,566.6L1425.8,565.7L1431.6,567.4L1437.4,566.6L1443.6,583.9L1447.3,575.2L1454.8,579.3L1462.2,585.2L1472.1,576.5L1478.9,586.7L1485.8,595.1L1491.3,587.9L1496.9,582.7L1504.3,592.8L1511.8,601.3L1519.3,592.6L1526.7,594.6L1534.1,598.8L1540.3,593.9L1546.6,587.6L1551.5,598.8L1559.0,602.5L1566.4,608.7L1571.4,593.8L1577.6,602.2L1583.8,608.7L1591.2,601.9L1598.7,596.3L1606.1,600.8L1613.5,603.8L1618.5,595.4L1623.5,588.9L1630.9,605.0L1640.8,611.2L1645.8,607.1L1650.8,601.3L1660.7,605.0L1663.2,622.4L1670.6,605.0L1676.8,614.6L1683.0,626.1L1688.0,620.1L1693.0,612.5L1702.9,628.6L1712.8,616.2L1718.4,622.3L1724.0,629.8L1732.7,622.4L1740.1,632.3L1747.5,622.4L1755.0,631.0L1762.4,637.3L1767.4,626.1L1777.3,628.6L1783.5,622.9L1789.7,618.7L1795.3,629.1L1800.9,637.3L1807.1,628.6L1814.5,619.9" fill="none" stroke="#000" stroke-width="3.2" stroke-linejoin="round" stroke-linecap="round"/>
<line x1="1446.4" y1="84.3" x2="1381.6" y2="114.9" stroke="#000" stroke-width="1.2" stroke-dasharray="4 2.5"/>
<polygon points="1369.8,120.5 1379.6,110.9 1383.5,119.0" fill="#000"/>
<line x1="1539.3" y1="132.9" x2="1367.1" y2="173.9" stroke="#000" stroke-width="1.2" stroke-dasharray="4 2.5"/>
<polygon points="1354.5,176.9 1366.1,169.5 1368.2,178.3" fill="#000"/>
<line x1="1526.9" y1="258.2" x2="1379.7" y2="224.4" stroke="#000" stroke-width="1.2" stroke-dasharray="4 2.5"/>
<polygon points="1367.0,221.5 1380.7,220.0 1378.7,228.8" fill="#000"/>
<line x1="1455.6" y1="329.8" x2="1374.5" y2="337.9" stroke="#000" stroke-width="1.2" stroke-dasharray="4 2.5"/>
<polygon points="1361.6,339.2 1374.1,333.4 1375.0,342.4" fill="#000"/>
<line x1="1483.3" y1="417.4" x2="1350.0" y2="398.0" stroke="#000" stroke-width="1.2" stroke-dasharray="4 2.5"/>
<polygon points="1337.1,396.1 1350.6,393.5 1349.3,402.4" fill="#000"/>
<line x1="1473.3" y1="508.2" x2="1347.9" y2="457.5" stroke="#000" stroke-width="1.2" stroke-dasharray="4 2.5"/>
<polygon points="1335.8,452.6 1349.5,453.3 1346.2,461.6" fill="#000"/></svg>
</body></html>
